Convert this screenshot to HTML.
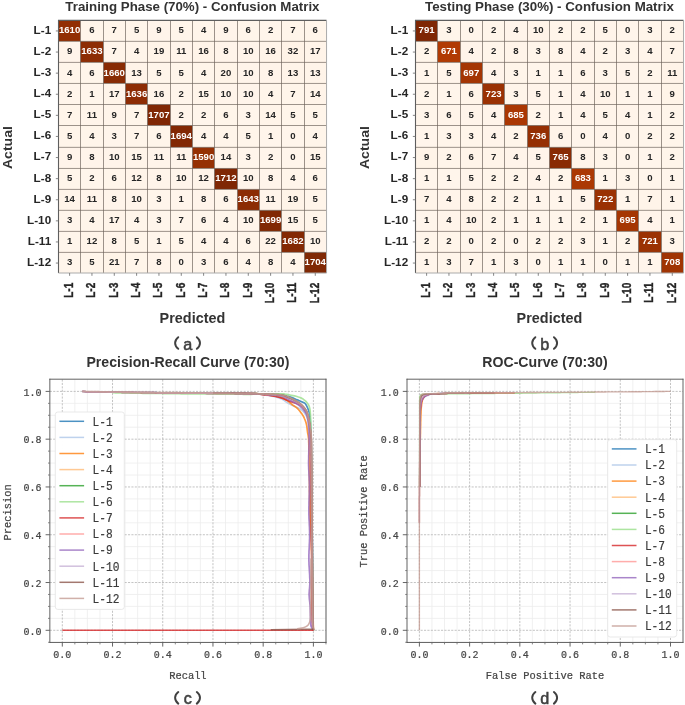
<!DOCTYPE html>
<html><head><meta charset="utf-8"><title>Figure</title>
<style>html,body{margin:0;padding:0;background:#fff;}body{width:685px;height:705px;overflow:hidden;font-family:"Liberation Sans",sans-serif;}svg{display:block;filter:blur(0.35px);}</style>
</head><body>
<svg width="685" height="705" viewBox="0 0 685 705" font-family='"Liberation Sans", sans-serif'><rect width="685" height="705" fill="#fff"/>
<rect x="58.50" y="20.40" width="22.05" height="21.00" fill="#922e04"/>
<rect x="80.50" y="20.40" width="23.05" height="21.00" fill="#fff5ea"/>
<rect x="103.50" y="20.40" width="22.05" height="21.00" fill="#fff5ea"/>
<rect x="125.50" y="20.40" width="22.05" height="21.00" fill="#fff5ea"/>
<rect x="147.50" y="20.40" width="23.05" height="21.00" fill="#fff4ea"/>
<rect x="170.50" y="20.40" width="22.05" height="21.00" fill="#fff5ea"/>
<rect x="192.50" y="20.40" width="22.05" height="21.00" fill="#fff5ea"/>
<rect x="214.50" y="20.40" width="23.05" height="21.00" fill="#fff4ea"/>
<rect x="237.50" y="20.40" width="22.05" height="21.00" fill="#fff5ea"/>
<rect x="259.50" y="20.40" width="22.05" height="21.00" fill="#fff5eb"/>
<rect x="281.50" y="20.40" width="23.05" height="21.00" fill="#fff5ea"/>
<rect x="304.50" y="20.40" width="22.10" height="21.00" fill="#fff5ea"/>
<rect x="58.50" y="41.35" width="22.05" height="21.10" fill="#fff4ea"/>
<rect x="80.50" y="41.35" width="23.05" height="21.10" fill="#8d2d04"/>
<rect x="103.50" y="41.35" width="22.05" height="21.10" fill="#fff5ea"/>
<rect x="125.50" y="41.35" width="22.05" height="21.10" fill="#fff5ea"/>
<rect x="147.50" y="41.35" width="23.05" height="21.10" fill="#fff4e8"/>
<rect x="170.50" y="41.35" width="22.05" height="21.10" fill="#fff4ea"/>
<rect x="192.50" y="41.35" width="22.05" height="21.10" fill="#fff4e9"/>
<rect x="214.50" y="41.35" width="23.05" height="21.10" fill="#fff4ea"/>
<rect x="237.50" y="41.35" width="22.05" height="21.10" fill="#fff4ea"/>
<rect x="259.50" y="41.35" width="22.05" height="21.10" fill="#fff4e9"/>
<rect x="281.50" y="41.35" width="23.05" height="21.10" fill="#fff3e7"/>
<rect x="304.50" y="41.35" width="22.10" height="21.10" fill="#fff4e9"/>
<rect x="58.50" y="62.40" width="22.05" height="21.10" fill="#fff5ea"/>
<rect x="80.50" y="62.40" width="23.05" height="21.10" fill="#fff5ea"/>
<rect x="103.50" y="62.40" width="22.05" height="21.10" fill="#882b04"/>
<rect x="125.50" y="62.40" width="22.05" height="21.10" fill="#fff4e9"/>
<rect x="147.50" y="62.40" width="23.05" height="21.10" fill="#fff5ea"/>
<rect x="170.50" y="62.40" width="22.05" height="21.10" fill="#fff5ea"/>
<rect x="192.50" y="62.40" width="22.05" height="21.10" fill="#fff5ea"/>
<rect x="214.50" y="62.40" width="23.05" height="21.10" fill="#fff4e8"/>
<rect x="237.50" y="62.40" width="22.05" height="21.10" fill="#fff4ea"/>
<rect x="259.50" y="62.40" width="22.05" height="21.10" fill="#fff4ea"/>
<rect x="281.50" y="62.40" width="23.05" height="21.10" fill="#fff4e9"/>
<rect x="304.50" y="62.40" width="22.10" height="21.10" fill="#fff4e9"/>
<rect x="58.50" y="83.45" width="22.05" height="21.10" fill="#fff5eb"/>
<rect x="80.50" y="83.45" width="23.05" height="21.10" fill="#fff5eb"/>
<rect x="103.50" y="83.45" width="22.05" height="21.10" fill="#fff4e9"/>
<rect x="125.50" y="83.45" width="22.05" height="21.10" fill="#8d2c04"/>
<rect x="147.50" y="83.45" width="23.05" height="21.10" fill="#fff4e9"/>
<rect x="170.50" y="83.45" width="22.05" height="21.10" fill="#fff5eb"/>
<rect x="192.50" y="83.45" width="22.05" height="21.10" fill="#fff4e9"/>
<rect x="214.50" y="83.45" width="23.05" height="21.10" fill="#fff4ea"/>
<rect x="237.50" y="83.45" width="22.05" height="21.10" fill="#fff4ea"/>
<rect x="259.50" y="83.45" width="22.05" height="21.10" fill="#fff5ea"/>
<rect x="281.50" y="83.45" width="23.05" height="21.10" fill="#fff5ea"/>
<rect x="304.50" y="83.45" width="22.10" height="21.10" fill="#fff4e9"/>
<rect x="58.50" y="104.50" width="22.05" height="21.05" fill="#fff5ea"/>
<rect x="80.50" y="104.50" width="23.05" height="21.05" fill="#fff4ea"/>
<rect x="103.50" y="104.50" width="22.05" height="21.05" fill="#fff4ea"/>
<rect x="125.50" y="104.50" width="22.05" height="21.05" fill="#fff5ea"/>
<rect x="147.50" y="104.50" width="23.05" height="21.05" fill="#802704"/>
<rect x="170.50" y="104.50" width="22.05" height="21.05" fill="#fff5eb"/>
<rect x="192.50" y="104.50" width="22.05" height="21.05" fill="#fff5eb"/>
<rect x="214.50" y="104.50" width="23.05" height="21.05" fill="#fff5ea"/>
<rect x="237.50" y="104.50" width="22.05" height="21.05" fill="#fff5eb"/>
<rect x="259.50" y="104.50" width="22.05" height="21.05" fill="#fff4e9"/>
<rect x="281.50" y="104.50" width="23.05" height="21.05" fill="#fff5ea"/>
<rect x="304.50" y="104.50" width="22.10" height="21.05" fill="#fff5ea"/>
<rect x="58.50" y="125.50" width="22.05" height="21.90" fill="#fff5ea"/>
<rect x="80.50" y="125.50" width="23.05" height="21.90" fill="#fff5ea"/>
<rect x="103.50" y="125.50" width="22.05" height="21.90" fill="#fff5eb"/>
<rect x="125.50" y="125.50" width="22.05" height="21.90" fill="#fff5ea"/>
<rect x="147.50" y="125.50" width="23.05" height="21.90" fill="#fff5ea"/>
<rect x="170.50" y="125.50" width="22.05" height="21.90" fill="#822804"/>
<rect x="192.50" y="125.50" width="22.05" height="21.90" fill="#fff5ea"/>
<rect x="214.50" y="125.50" width="23.05" height="21.90" fill="#fff5ea"/>
<rect x="237.50" y="125.50" width="22.05" height="21.90" fill="#fff5ea"/>
<rect x="259.50" y="125.50" width="22.05" height="21.90" fill="#fff5eb"/>
<rect x="281.50" y="125.50" width="23.05" height="21.90" fill="#fff5eb"/>
<rect x="304.50" y="125.50" width="22.10" height="21.90" fill="#fff5ea"/>
<rect x="58.50" y="147.35" width="22.05" height="21.15" fill="#fff4ea"/>
<rect x="80.50" y="147.35" width="23.05" height="21.15" fill="#fff4ea"/>
<rect x="103.50" y="147.35" width="22.05" height="21.15" fill="#fff4ea"/>
<rect x="125.50" y="147.35" width="22.05" height="21.15" fill="#fff4e9"/>
<rect x="147.50" y="147.35" width="23.05" height="21.15" fill="#fff4ea"/>
<rect x="170.50" y="147.35" width="22.05" height="21.15" fill="#fff4ea"/>
<rect x="192.50" y="147.35" width="22.05" height="21.15" fill="#953003"/>
<rect x="214.50" y="147.35" width="23.05" height="21.15" fill="#fff4e9"/>
<rect x="237.50" y="147.35" width="22.05" height="21.15" fill="#fff5eb"/>
<rect x="259.50" y="147.35" width="22.05" height="21.15" fill="#fff5eb"/>
<rect x="281.50" y="147.35" width="23.05" height="21.15" fill="#fff5eb"/>
<rect x="304.50" y="147.35" width="22.10" height="21.15" fill="#fff4e9"/>
<rect x="58.50" y="168.45" width="22.05" height="21.00" fill="#fff5ea"/>
<rect x="80.50" y="168.45" width="23.05" height="21.00" fill="#fff5eb"/>
<rect x="103.50" y="168.45" width="22.05" height="21.00" fill="#fff5ea"/>
<rect x="125.50" y="168.45" width="22.05" height="21.00" fill="#fff4e9"/>
<rect x="147.50" y="168.45" width="23.05" height="21.00" fill="#fff4ea"/>
<rect x="170.50" y="168.45" width="22.05" height="21.00" fill="#fff4ea"/>
<rect x="192.50" y="168.45" width="22.05" height="21.00" fill="#fff4e9"/>
<rect x="214.50" y="168.45" width="23.05" height="21.00" fill="#7f2704"/>
<rect x="237.50" y="168.45" width="22.05" height="21.00" fill="#fff4ea"/>
<rect x="259.50" y="168.45" width="22.05" height="21.00" fill="#fff4ea"/>
<rect x="281.50" y="168.45" width="23.05" height="21.00" fill="#fff5ea"/>
<rect x="304.50" y="168.45" width="22.10" height="21.00" fill="#fff5ea"/>
<rect x="58.50" y="189.40" width="22.05" height="21.00" fill="#fff4e9"/>
<rect x="80.50" y="189.40" width="23.05" height="21.00" fill="#fff4ea"/>
<rect x="103.50" y="189.40" width="22.05" height="21.00" fill="#fff4ea"/>
<rect x="125.50" y="189.40" width="22.05" height="21.00" fill="#fff4ea"/>
<rect x="147.50" y="189.40" width="23.05" height="21.00" fill="#fff5eb"/>
<rect x="170.50" y="189.40" width="22.05" height="21.00" fill="#fff5eb"/>
<rect x="192.50" y="189.40" width="22.05" height="21.00" fill="#fff4ea"/>
<rect x="214.50" y="189.40" width="23.05" height="21.00" fill="#fff5ea"/>
<rect x="237.50" y="189.40" width="22.05" height="21.00" fill="#8c2c04"/>
<rect x="259.50" y="189.40" width="22.05" height="21.00" fill="#fff4ea"/>
<rect x="281.50" y="189.40" width="23.05" height="21.00" fill="#fff4e8"/>
<rect x="304.50" y="189.40" width="22.10" height="21.00" fill="#fff5ea"/>
<rect x="58.50" y="210.35" width="22.05" height="21.10" fill="#fff5eb"/>
<rect x="80.50" y="210.35" width="23.05" height="21.10" fill="#fff5ea"/>
<rect x="103.50" y="210.35" width="22.05" height="21.10" fill="#fff4e9"/>
<rect x="125.50" y="210.35" width="22.05" height="21.10" fill="#fff5ea"/>
<rect x="147.50" y="210.35" width="23.05" height="21.10" fill="#fff5eb"/>
<rect x="170.50" y="210.35" width="22.05" height="21.10" fill="#fff5ea"/>
<rect x="192.50" y="210.35" width="22.05" height="21.10" fill="#fff5ea"/>
<rect x="214.50" y="210.35" width="23.05" height="21.10" fill="#fff5ea"/>
<rect x="237.50" y="210.35" width="22.05" height="21.10" fill="#fff4ea"/>
<rect x="259.50" y="210.35" width="22.05" height="21.10" fill="#812804"/>
<rect x="281.50" y="210.35" width="23.05" height="21.10" fill="#fff4e9"/>
<rect x="304.50" y="210.35" width="22.10" height="21.10" fill="#fff5ea"/>
<rect x="58.50" y="231.40" width="22.05" height="21.05" fill="#fff5eb"/>
<rect x="80.50" y="231.40" width="23.05" height="21.05" fill="#fff4e9"/>
<rect x="103.50" y="231.40" width="22.05" height="21.05" fill="#fff4ea"/>
<rect x="125.50" y="231.40" width="22.05" height="21.05" fill="#fff5ea"/>
<rect x="147.50" y="231.40" width="23.05" height="21.05" fill="#fff5eb"/>
<rect x="170.50" y="231.40" width="22.05" height="21.05" fill="#fff5ea"/>
<rect x="192.50" y="231.40" width="22.05" height="21.05" fill="#fff5ea"/>
<rect x="214.50" y="231.40" width="23.05" height="21.05" fill="#fff5ea"/>
<rect x="237.50" y="231.40" width="22.05" height="21.05" fill="#fff5ea"/>
<rect x="259.50" y="231.40" width="22.05" height="21.05" fill="#fff3e8"/>
<rect x="281.50" y="231.40" width="23.05" height="21.05" fill="#842904"/>
<rect x="304.50" y="231.40" width="22.10" height="21.05" fill="#fff4ea"/>
<rect x="58.50" y="252.40" width="22.05" height="20.65" fill="#fff5eb"/>
<rect x="80.50" y="252.40" width="23.05" height="20.65" fill="#fff5ea"/>
<rect x="103.50" y="252.40" width="22.05" height="20.65" fill="#fff4e8"/>
<rect x="125.50" y="252.40" width="22.05" height="20.65" fill="#fff5ea"/>
<rect x="147.50" y="252.40" width="23.05" height="20.65" fill="#fff4ea"/>
<rect x="170.50" y="252.40" width="22.05" height="20.65" fill="#fff5eb"/>
<rect x="192.50" y="252.40" width="22.05" height="20.65" fill="#fff5eb"/>
<rect x="214.50" y="252.40" width="23.05" height="20.65" fill="#fff5ea"/>
<rect x="237.50" y="252.40" width="22.05" height="20.65" fill="#fff5ea"/>
<rect x="259.50" y="252.40" width="22.05" height="20.65" fill="#fff4ea"/>
<rect x="281.50" y="252.40" width="23.05" height="20.65" fill="#fff5ea"/>
<rect x="304.50" y="252.40" width="22.10" height="20.65" fill="#802804"/>
<path d="M80.50 20.40V273.00M103.50 20.40V273.00M125.50 20.40V273.00M147.50 20.40V273.00M170.50 20.40V273.00M192.50 20.40V273.00M214.50 20.40V273.00M237.50 20.40V273.00M259.50 20.40V273.00M281.50 20.40V273.00M304.50 20.40V273.00M58.50 41.35H326.55M58.50 62.40H326.55M58.50 83.45H326.55M58.50 104.50H326.55M58.50 125.50H326.55M58.50 147.35H326.55M58.50 168.45H326.55M58.50 189.40H326.55M58.50 210.35H326.55M58.50 231.40H326.55M58.50 252.40H326.55" stroke="#6e6259" stroke-width="0.95" fill="none" opacity="0.72"/>
<path d="M58.50 273.00V20.40H326.55" stroke="#5e5e5e" stroke-width="1.1" fill="none"/>
<path d="M326.55 20.40V273.00H58.50" stroke="#ababab" stroke-width="1.0" fill="none"/>
<text x="69.62" y="33.31" fill="#ffffff" font-size="9.6" font-weight="bold" text-anchor="middle">1610</text>
<text x="91.95" y="33.31" fill="#262626" font-size="9.6" font-weight="bold" text-anchor="middle">6</text>
<text x="114.28" y="33.31" fill="#262626" font-size="9.6" font-weight="bold" text-anchor="middle">7</text>
<text x="136.62" y="33.31" fill="#262626" font-size="9.6" font-weight="bold" text-anchor="middle">5</text>
<text x="158.95" y="33.31" fill="#262626" font-size="9.6" font-weight="bold" text-anchor="middle">9</text>
<text x="181.28" y="33.31" fill="#262626" font-size="9.6" font-weight="bold" text-anchor="middle">5</text>
<text x="203.62" y="33.31" fill="#262626" font-size="9.6" font-weight="bold" text-anchor="middle">4</text>
<text x="225.95" y="33.31" fill="#262626" font-size="9.6" font-weight="bold" text-anchor="middle">9</text>
<text x="248.28" y="33.31" fill="#262626" font-size="9.6" font-weight="bold" text-anchor="middle">6</text>
<text x="270.62" y="33.31" fill="#262626" font-size="9.6" font-weight="bold" text-anchor="middle">2</text>
<text x="292.95" y="33.31" fill="#262626" font-size="9.6" font-weight="bold" text-anchor="middle">7</text>
<text x="315.28" y="33.31" fill="#262626" font-size="9.6" font-weight="bold" text-anchor="middle">6</text>
<text x="69.62" y="54.41" fill="#262626" font-size="9.6" font-weight="bold" text-anchor="middle">9</text>
<text x="91.95" y="54.41" fill="#ffffff" font-size="9.6" font-weight="bold" text-anchor="middle">1633</text>
<text x="114.28" y="54.41" fill="#262626" font-size="9.6" font-weight="bold" text-anchor="middle">7</text>
<text x="136.62" y="54.41" fill="#262626" font-size="9.6" font-weight="bold" text-anchor="middle">4</text>
<text x="158.95" y="54.41" fill="#262626" font-size="9.6" font-weight="bold" text-anchor="middle">19</text>
<text x="181.28" y="54.41" fill="#262626" font-size="9.6" font-weight="bold" text-anchor="middle">11</text>
<text x="203.62" y="54.41" fill="#262626" font-size="9.6" font-weight="bold" text-anchor="middle">16</text>
<text x="225.95" y="54.41" fill="#262626" font-size="9.6" font-weight="bold" text-anchor="middle">8</text>
<text x="248.28" y="54.41" fill="#262626" font-size="9.6" font-weight="bold" text-anchor="middle">10</text>
<text x="270.62" y="54.41" fill="#262626" font-size="9.6" font-weight="bold" text-anchor="middle">16</text>
<text x="292.95" y="54.41" fill="#262626" font-size="9.6" font-weight="bold" text-anchor="middle">32</text>
<text x="315.28" y="54.41" fill="#262626" font-size="9.6" font-weight="bold" text-anchor="middle">17</text>
<text x="69.62" y="75.51" fill="#262626" font-size="9.6" font-weight="bold" text-anchor="middle">4</text>
<text x="91.95" y="75.51" fill="#262626" font-size="9.6" font-weight="bold" text-anchor="middle">6</text>
<text x="114.28" y="75.51" fill="#ffffff" font-size="9.6" font-weight="bold" text-anchor="middle">1660</text>
<text x="136.62" y="75.51" fill="#262626" font-size="9.6" font-weight="bold" text-anchor="middle">13</text>
<text x="158.95" y="75.51" fill="#262626" font-size="9.6" font-weight="bold" text-anchor="middle">5</text>
<text x="181.28" y="75.51" fill="#262626" font-size="9.6" font-weight="bold" text-anchor="middle">5</text>
<text x="203.62" y="75.51" fill="#262626" font-size="9.6" font-weight="bold" text-anchor="middle">4</text>
<text x="225.95" y="75.51" fill="#262626" font-size="9.6" font-weight="bold" text-anchor="middle">20</text>
<text x="248.28" y="75.51" fill="#262626" font-size="9.6" font-weight="bold" text-anchor="middle">10</text>
<text x="270.62" y="75.51" fill="#262626" font-size="9.6" font-weight="bold" text-anchor="middle">8</text>
<text x="292.95" y="75.51" fill="#262626" font-size="9.6" font-weight="bold" text-anchor="middle">13</text>
<text x="315.28" y="75.51" fill="#262626" font-size="9.6" font-weight="bold" text-anchor="middle">13</text>
<text x="69.62" y="96.61" fill="#262626" font-size="9.6" font-weight="bold" text-anchor="middle">2</text>
<text x="91.95" y="96.61" fill="#262626" font-size="9.6" font-weight="bold" text-anchor="middle">1</text>
<text x="114.28" y="96.61" fill="#262626" font-size="9.6" font-weight="bold" text-anchor="middle">17</text>
<text x="136.62" y="96.61" fill="#ffffff" font-size="9.6" font-weight="bold" text-anchor="middle">1636</text>
<text x="158.95" y="96.61" fill="#262626" font-size="9.6" font-weight="bold" text-anchor="middle">16</text>
<text x="181.28" y="96.61" fill="#262626" font-size="9.6" font-weight="bold" text-anchor="middle">2</text>
<text x="203.62" y="96.61" fill="#262626" font-size="9.6" font-weight="bold" text-anchor="middle">15</text>
<text x="225.95" y="96.61" fill="#262626" font-size="9.6" font-weight="bold" text-anchor="middle">10</text>
<text x="248.28" y="96.61" fill="#262626" font-size="9.6" font-weight="bold" text-anchor="middle">10</text>
<text x="270.62" y="96.61" fill="#262626" font-size="9.6" font-weight="bold" text-anchor="middle">4</text>
<text x="292.95" y="96.61" fill="#262626" font-size="9.6" font-weight="bold" text-anchor="middle">7</text>
<text x="315.28" y="96.61" fill="#262626" font-size="9.6" font-weight="bold" text-anchor="middle">14</text>
<text x="69.62" y="117.71" fill="#262626" font-size="9.6" font-weight="bold" text-anchor="middle">7</text>
<text x="91.95" y="117.71" fill="#262626" font-size="9.6" font-weight="bold" text-anchor="middle">11</text>
<text x="114.28" y="117.71" fill="#262626" font-size="9.6" font-weight="bold" text-anchor="middle">9</text>
<text x="136.62" y="117.71" fill="#262626" font-size="9.6" font-weight="bold" text-anchor="middle">7</text>
<text x="158.95" y="117.71" fill="#ffffff" font-size="9.6" font-weight="bold" text-anchor="middle">1707</text>
<text x="181.28" y="117.71" fill="#262626" font-size="9.6" font-weight="bold" text-anchor="middle">2</text>
<text x="203.62" y="117.71" fill="#262626" font-size="9.6" font-weight="bold" text-anchor="middle">2</text>
<text x="225.95" y="117.71" fill="#262626" font-size="9.6" font-weight="bold" text-anchor="middle">6</text>
<text x="248.28" y="117.71" fill="#262626" font-size="9.6" font-weight="bold" text-anchor="middle">3</text>
<text x="270.62" y="117.71" fill="#262626" font-size="9.6" font-weight="bold" text-anchor="middle">14</text>
<text x="292.95" y="117.71" fill="#262626" font-size="9.6" font-weight="bold" text-anchor="middle">5</text>
<text x="315.28" y="117.71" fill="#262626" font-size="9.6" font-weight="bold" text-anchor="middle">5</text>
<text x="69.62" y="138.81" fill="#262626" font-size="9.6" font-weight="bold" text-anchor="middle">5</text>
<text x="91.95" y="138.81" fill="#262626" font-size="9.6" font-weight="bold" text-anchor="middle">4</text>
<text x="114.28" y="138.81" fill="#262626" font-size="9.6" font-weight="bold" text-anchor="middle">3</text>
<text x="136.62" y="138.81" fill="#262626" font-size="9.6" font-weight="bold" text-anchor="middle">7</text>
<text x="158.95" y="138.81" fill="#262626" font-size="9.6" font-weight="bold" text-anchor="middle">6</text>
<text x="181.28" y="138.81" fill="#ffffff" font-size="9.6" font-weight="bold" text-anchor="middle">1694</text>
<text x="203.62" y="138.81" fill="#262626" font-size="9.6" font-weight="bold" text-anchor="middle">4</text>
<text x="225.95" y="138.81" fill="#262626" font-size="9.6" font-weight="bold" text-anchor="middle">4</text>
<text x="248.28" y="138.81" fill="#262626" font-size="9.6" font-weight="bold" text-anchor="middle">5</text>
<text x="270.62" y="138.81" fill="#262626" font-size="9.6" font-weight="bold" text-anchor="middle">1</text>
<text x="292.95" y="138.81" fill="#262626" font-size="9.6" font-weight="bold" text-anchor="middle">0</text>
<text x="315.28" y="138.81" fill="#262626" font-size="9.6" font-weight="bold" text-anchor="middle">4</text>
<text x="69.62" y="159.91" fill="#262626" font-size="9.6" font-weight="bold" text-anchor="middle">9</text>
<text x="91.95" y="159.91" fill="#262626" font-size="9.6" font-weight="bold" text-anchor="middle">8</text>
<text x="114.28" y="159.91" fill="#262626" font-size="9.6" font-weight="bold" text-anchor="middle">10</text>
<text x="136.62" y="159.91" fill="#262626" font-size="9.6" font-weight="bold" text-anchor="middle">15</text>
<text x="158.95" y="159.91" fill="#262626" font-size="9.6" font-weight="bold" text-anchor="middle">11</text>
<text x="181.28" y="159.91" fill="#262626" font-size="9.6" font-weight="bold" text-anchor="middle">11</text>
<text x="203.62" y="159.91" fill="#ffffff" font-size="9.6" font-weight="bold" text-anchor="middle">1590</text>
<text x="225.95" y="159.91" fill="#262626" font-size="9.6" font-weight="bold" text-anchor="middle">14</text>
<text x="248.28" y="159.91" fill="#262626" font-size="9.6" font-weight="bold" text-anchor="middle">3</text>
<text x="270.62" y="159.91" fill="#262626" font-size="9.6" font-weight="bold" text-anchor="middle">2</text>
<text x="292.95" y="159.91" fill="#262626" font-size="9.6" font-weight="bold" text-anchor="middle">0</text>
<text x="315.28" y="159.91" fill="#262626" font-size="9.6" font-weight="bold" text-anchor="middle">15</text>
<text x="69.62" y="181.01" fill="#262626" font-size="9.6" font-weight="bold" text-anchor="middle">5</text>
<text x="91.95" y="181.01" fill="#262626" font-size="9.6" font-weight="bold" text-anchor="middle">2</text>
<text x="114.28" y="181.01" fill="#262626" font-size="9.6" font-weight="bold" text-anchor="middle">6</text>
<text x="136.62" y="181.01" fill="#262626" font-size="9.6" font-weight="bold" text-anchor="middle">12</text>
<text x="158.95" y="181.01" fill="#262626" font-size="9.6" font-weight="bold" text-anchor="middle">8</text>
<text x="181.28" y="181.01" fill="#262626" font-size="9.6" font-weight="bold" text-anchor="middle">10</text>
<text x="203.62" y="181.01" fill="#262626" font-size="9.6" font-weight="bold" text-anchor="middle">12</text>
<text x="225.95" y="181.01" fill="#ffffff" font-size="9.6" font-weight="bold" text-anchor="middle">1712</text>
<text x="248.28" y="181.01" fill="#262626" font-size="9.6" font-weight="bold" text-anchor="middle">10</text>
<text x="270.62" y="181.01" fill="#262626" font-size="9.6" font-weight="bold" text-anchor="middle">8</text>
<text x="292.95" y="181.01" fill="#262626" font-size="9.6" font-weight="bold" text-anchor="middle">4</text>
<text x="315.28" y="181.01" fill="#262626" font-size="9.6" font-weight="bold" text-anchor="middle">6</text>
<text x="69.62" y="202.11" fill="#262626" font-size="9.6" font-weight="bold" text-anchor="middle">14</text>
<text x="91.95" y="202.11" fill="#262626" font-size="9.6" font-weight="bold" text-anchor="middle">11</text>
<text x="114.28" y="202.11" fill="#262626" font-size="9.6" font-weight="bold" text-anchor="middle">8</text>
<text x="136.62" y="202.11" fill="#262626" font-size="9.6" font-weight="bold" text-anchor="middle">10</text>
<text x="158.95" y="202.11" fill="#262626" font-size="9.6" font-weight="bold" text-anchor="middle">3</text>
<text x="181.28" y="202.11" fill="#262626" font-size="9.6" font-weight="bold" text-anchor="middle">1</text>
<text x="203.62" y="202.11" fill="#262626" font-size="9.6" font-weight="bold" text-anchor="middle">8</text>
<text x="225.95" y="202.11" fill="#262626" font-size="9.6" font-weight="bold" text-anchor="middle">6</text>
<text x="248.28" y="202.11" fill="#ffffff" font-size="9.6" font-weight="bold" text-anchor="middle">1643</text>
<text x="270.62" y="202.11" fill="#262626" font-size="9.6" font-weight="bold" text-anchor="middle">11</text>
<text x="292.95" y="202.11" fill="#262626" font-size="9.6" font-weight="bold" text-anchor="middle">19</text>
<text x="315.28" y="202.11" fill="#262626" font-size="9.6" font-weight="bold" text-anchor="middle">5</text>
<text x="69.62" y="223.21" fill="#262626" font-size="9.6" font-weight="bold" text-anchor="middle">3</text>
<text x="91.95" y="223.21" fill="#262626" font-size="9.6" font-weight="bold" text-anchor="middle">4</text>
<text x="114.28" y="223.21" fill="#262626" font-size="9.6" font-weight="bold" text-anchor="middle">17</text>
<text x="136.62" y="223.21" fill="#262626" font-size="9.6" font-weight="bold" text-anchor="middle">4</text>
<text x="158.95" y="223.21" fill="#262626" font-size="9.6" font-weight="bold" text-anchor="middle">3</text>
<text x="181.28" y="223.21" fill="#262626" font-size="9.6" font-weight="bold" text-anchor="middle">7</text>
<text x="203.62" y="223.21" fill="#262626" font-size="9.6" font-weight="bold" text-anchor="middle">6</text>
<text x="225.95" y="223.21" fill="#262626" font-size="9.6" font-weight="bold" text-anchor="middle">4</text>
<text x="248.28" y="223.21" fill="#262626" font-size="9.6" font-weight="bold" text-anchor="middle">10</text>
<text x="270.62" y="223.21" fill="#ffffff" font-size="9.6" font-weight="bold" text-anchor="middle">1699</text>
<text x="292.95" y="223.21" fill="#262626" font-size="9.6" font-weight="bold" text-anchor="middle">15</text>
<text x="315.28" y="223.21" fill="#262626" font-size="9.6" font-weight="bold" text-anchor="middle">5</text>
<text x="69.62" y="244.31" fill="#262626" font-size="9.6" font-weight="bold" text-anchor="middle">1</text>
<text x="91.95" y="244.31" fill="#262626" font-size="9.6" font-weight="bold" text-anchor="middle">12</text>
<text x="114.28" y="244.31" fill="#262626" font-size="9.6" font-weight="bold" text-anchor="middle">8</text>
<text x="136.62" y="244.31" fill="#262626" font-size="9.6" font-weight="bold" text-anchor="middle">5</text>
<text x="158.95" y="244.31" fill="#262626" font-size="9.6" font-weight="bold" text-anchor="middle">1</text>
<text x="181.28" y="244.31" fill="#262626" font-size="9.6" font-weight="bold" text-anchor="middle">5</text>
<text x="203.62" y="244.31" fill="#262626" font-size="9.6" font-weight="bold" text-anchor="middle">4</text>
<text x="225.95" y="244.31" fill="#262626" font-size="9.6" font-weight="bold" text-anchor="middle">4</text>
<text x="248.28" y="244.31" fill="#262626" font-size="9.6" font-weight="bold" text-anchor="middle">6</text>
<text x="270.62" y="244.31" fill="#262626" font-size="9.6" font-weight="bold" text-anchor="middle">22</text>
<text x="292.95" y="244.31" fill="#ffffff" font-size="9.6" font-weight="bold" text-anchor="middle">1682</text>
<text x="315.28" y="244.31" fill="#262626" font-size="9.6" font-weight="bold" text-anchor="middle">10</text>
<text x="69.62" y="265.41" fill="#262626" font-size="9.6" font-weight="bold" text-anchor="middle">3</text>
<text x="91.95" y="265.41" fill="#262626" font-size="9.6" font-weight="bold" text-anchor="middle">5</text>
<text x="114.28" y="265.41" fill="#262626" font-size="9.6" font-weight="bold" text-anchor="middle">21</text>
<text x="136.62" y="265.41" fill="#262626" font-size="9.6" font-weight="bold" text-anchor="middle">7</text>
<text x="158.95" y="265.41" fill="#262626" font-size="9.6" font-weight="bold" text-anchor="middle">8</text>
<text x="181.28" y="265.41" fill="#262626" font-size="9.6" font-weight="bold" text-anchor="middle">0</text>
<text x="203.62" y="265.41" fill="#262626" font-size="9.6" font-weight="bold" text-anchor="middle">3</text>
<text x="225.95" y="265.41" fill="#262626" font-size="9.6" font-weight="bold" text-anchor="middle">6</text>
<text x="248.28" y="265.41" fill="#262626" font-size="9.6" font-weight="bold" text-anchor="middle">4</text>
<text x="270.62" y="265.41" fill="#262626" font-size="9.6" font-weight="bold" text-anchor="middle">8</text>
<text x="292.95" y="265.41" fill="#262626" font-size="9.6" font-weight="bold" text-anchor="middle">4</text>
<text x="315.28" y="265.41" fill="#ffffff" font-size="9.6" font-weight="bold" text-anchor="middle">1704</text>
<text x="51.15" y="33.89" fill="#262626" font-size="11.7" font-weight="bold" text-anchor="end">L-1</text>
<text x="51.15" y="54.99" fill="#262626" font-size="11.7" font-weight="bold" text-anchor="end">L-2</text>
<text x="51.15" y="76.09" fill="#262626" font-size="11.7" font-weight="bold" text-anchor="end">L-3</text>
<text x="51.15" y="97.19" fill="#262626" font-size="11.7" font-weight="bold" text-anchor="end">L-4</text>
<text x="51.15" y="118.29" fill="#262626" font-size="11.7" font-weight="bold" text-anchor="end">L-5</text>
<text x="51.15" y="139.39" fill="#262626" font-size="11.7" font-weight="bold" text-anchor="end">L-6</text>
<text x="51.15" y="160.49" fill="#262626" font-size="11.7" font-weight="bold" text-anchor="end">L-7</text>
<text x="51.15" y="181.59" fill="#262626" font-size="11.7" font-weight="bold" text-anchor="end">L-8</text>
<text x="51.15" y="202.69" fill="#262626" font-size="11.7" font-weight="bold" text-anchor="end">L-9</text>
<text x="51.15" y="223.79" fill="#262626" font-size="11.7" font-weight="bold" text-anchor="end">L-10</text>
<text x="51.15" y="244.89" fill="#262626" font-size="11.7" font-weight="bold" text-anchor="end">L-11</text>
<text x="51.15" y="265.99" fill="#262626" font-size="11.7" font-weight="bold" text-anchor="end">L-12</text>
<text transform="translate(72.97,282.70) rotate(-90) scale(0.86,1.12)" fill="#262626" stroke="#262626" stroke-width="0.35" font-size="11.7" font-weight="bold" text-anchor="end">L-1</text>
<text transform="translate(95.30,282.70) rotate(-90) scale(0.86,1.12)" fill="#262626" stroke="#262626" stroke-width="0.35" font-size="11.7" font-weight="bold" text-anchor="end">L-2</text>
<text transform="translate(117.63,282.70) rotate(-90) scale(0.86,1.12)" fill="#262626" stroke="#262626" stroke-width="0.35" font-size="11.7" font-weight="bold" text-anchor="end">L-3</text>
<text transform="translate(139.97,282.70) rotate(-90) scale(0.86,1.12)" fill="#262626" stroke="#262626" stroke-width="0.35" font-size="11.7" font-weight="bold" text-anchor="end">L-4</text>
<text transform="translate(162.30,282.70) rotate(-90) scale(0.86,1.12)" fill="#262626" stroke="#262626" stroke-width="0.35" font-size="11.7" font-weight="bold" text-anchor="end">L-5</text>
<text transform="translate(184.63,282.70) rotate(-90) scale(0.86,1.12)" fill="#262626" stroke="#262626" stroke-width="0.35" font-size="11.7" font-weight="bold" text-anchor="end">L-6</text>
<text transform="translate(206.97,282.70) rotate(-90) scale(0.86,1.12)" fill="#262626" stroke="#262626" stroke-width="0.35" font-size="11.7" font-weight="bold" text-anchor="end">L-7</text>
<text transform="translate(229.30,282.70) rotate(-90) scale(0.86,1.12)" fill="#262626" stroke="#262626" stroke-width="0.35" font-size="11.7" font-weight="bold" text-anchor="end">L-8</text>
<text transform="translate(251.63,282.70) rotate(-90) scale(0.86,1.12)" fill="#262626" stroke="#262626" stroke-width="0.35" font-size="11.7" font-weight="bold" text-anchor="end">L-9</text>
<text transform="translate(273.97,282.70) rotate(-90) scale(0.86,1.12)" fill="#262626" stroke="#262626" stroke-width="0.35" font-size="11.7" font-weight="bold" text-anchor="end">L-10</text>
<text transform="translate(296.30,282.70) rotate(-90) scale(0.86,1.12)" fill="#262626" stroke="#262626" stroke-width="0.35" font-size="11.7" font-weight="bold" text-anchor="end">L-11</text>
<text transform="translate(318.63,282.70) rotate(-90) scale(0.86,1.12)" fill="#262626" stroke="#262626" stroke-width="0.35" font-size="11.7" font-weight="bold" text-anchor="end">L-12</text>
<path d="M55.85 30.95H58.45M55.85 52.05H58.45M55.85 73.15H58.45M55.85 94.25H58.45M55.85 115.35H58.45M55.85 136.45H58.45M55.85 157.55H58.45M55.85 178.65H58.45M55.85 199.75H58.45M55.85 220.85H58.45M55.85 241.95H58.45M55.85 263.05H58.45M69.62 273.00V275.80M91.95 273.00V275.80M114.28 273.00V275.80M136.62 273.00V275.80M158.95 273.00V275.80M181.28 273.00V275.80M203.62 273.00V275.80M225.95 273.00V275.80M248.28 273.00V275.80M270.62 273.00V275.80M292.95 273.00V275.80M315.28 273.00V275.80" stroke="#777" stroke-width="0.9" fill="none"/>
<text x="192.45" y="10.9" fill="#333" font-size="13.3" font-weight="bold" text-anchor="middle">Training Phase (70%) - Confusion Matrix</text>
<text transform="translate(192.45,322.7) scale(1.045,1)" fill="#333" font-size="13.8" font-weight="bold" text-anchor="middle">Predicted</text>
<rect x="415.50" y="20.40" width="22.05" height="21.00" fill="#7f2704"/>
<rect x="437.50" y="20.40" width="23.05" height="21.00" fill="#fff5ea"/>
<rect x="460.50" y="20.40" width="22.05" height="21.00" fill="#fff5eb"/>
<rect x="482.50" y="20.40" width="22.05" height="21.00" fill="#fff5ea"/>
<rect x="504.50" y="20.40" width="23.05" height="21.00" fill="#fff4ea"/>
<rect x="527.50" y="20.40" width="22.05" height="21.00" fill="#fff3e8"/>
<rect x="549.50" y="20.40" width="22.05" height="21.00" fill="#fff5ea"/>
<rect x="571.50" y="20.40" width="23.05" height="21.00" fill="#fff5ea"/>
<rect x="594.50" y="20.40" width="22.05" height="21.00" fill="#fff4ea"/>
<rect x="616.50" y="20.40" width="22.05" height="21.00" fill="#fff5eb"/>
<rect x="638.50" y="20.40" width="23.05" height="21.00" fill="#fff5ea"/>
<rect x="661.50" y="20.40" width="22.10" height="21.00" fill="#fff5ea"/>
<rect x="415.50" y="41.35" width="22.05" height="21.10" fill="#fff5ea"/>
<rect x="437.50" y="41.35" width="23.05" height="21.10" fill="#b13a03"/>
<rect x="460.50" y="41.35" width="22.05" height="21.10" fill="#fff4ea"/>
<rect x="482.50" y="41.35" width="22.05" height="21.10" fill="#fff5ea"/>
<rect x="504.50" y="41.35" width="23.05" height="21.10" fill="#fff4e9"/>
<rect x="527.50" y="41.35" width="22.05" height="21.10" fill="#fff5ea"/>
<rect x="549.50" y="41.35" width="22.05" height="21.10" fill="#fff4e9"/>
<rect x="571.50" y="41.35" width="23.05" height="21.10" fill="#fff4ea"/>
<rect x="594.50" y="41.35" width="22.05" height="21.10" fill="#fff5ea"/>
<rect x="616.50" y="41.35" width="22.05" height="21.10" fill="#fff5ea"/>
<rect x="638.50" y="41.35" width="23.05" height="21.10" fill="#fff4ea"/>
<rect x="661.50" y="41.35" width="22.10" height="21.10" fill="#fff4e9"/>
<rect x="415.50" y="62.40" width="22.05" height="21.10" fill="#fff5eb"/>
<rect x="437.50" y="62.40" width="23.05" height="21.10" fill="#fff4ea"/>
<rect x="460.50" y="62.40" width="22.05" height="21.10" fill="#a43503"/>
<rect x="482.50" y="62.40" width="22.05" height="21.10" fill="#fff4ea"/>
<rect x="504.50" y="62.40" width="23.05" height="21.10" fill="#fff5ea"/>
<rect x="527.50" y="62.40" width="22.05" height="21.10" fill="#fff5eb"/>
<rect x="549.50" y="62.40" width="22.05" height="21.10" fill="#fff5eb"/>
<rect x="571.50" y="62.40" width="23.05" height="21.10" fill="#fff4e9"/>
<rect x="594.50" y="62.40" width="22.05" height="21.10" fill="#fff5ea"/>
<rect x="616.50" y="62.40" width="22.05" height="21.10" fill="#fff4ea"/>
<rect x="638.50" y="62.40" width="23.05" height="21.10" fill="#fff5ea"/>
<rect x="661.50" y="62.40" width="22.10" height="21.10" fill="#fff3e8"/>
<rect x="415.50" y="83.45" width="22.05" height="21.10" fill="#fff5ea"/>
<rect x="437.50" y="83.45" width="23.05" height="21.10" fill="#fff5eb"/>
<rect x="460.50" y="83.45" width="22.05" height="21.10" fill="#fff4e9"/>
<rect x="482.50" y="83.45" width="22.05" height="21.10" fill="#9a3103"/>
<rect x="504.50" y="83.45" width="23.05" height="21.10" fill="#fff5ea"/>
<rect x="527.50" y="83.45" width="22.05" height="21.10" fill="#fff4ea"/>
<rect x="549.50" y="83.45" width="22.05" height="21.10" fill="#fff5eb"/>
<rect x="571.50" y="83.45" width="23.05" height="21.10" fill="#fff4ea"/>
<rect x="594.50" y="83.45" width="22.05" height="21.10" fill="#fff3e8"/>
<rect x="616.50" y="83.45" width="22.05" height="21.10" fill="#fff5eb"/>
<rect x="638.50" y="83.45" width="23.05" height="21.10" fill="#fff5eb"/>
<rect x="661.50" y="83.45" width="22.10" height="21.10" fill="#fff4e8"/>
<rect x="415.50" y="104.50" width="22.05" height="21.05" fill="#fff5ea"/>
<rect x="437.50" y="104.50" width="23.05" height="21.05" fill="#fff4e9"/>
<rect x="460.50" y="104.50" width="22.05" height="21.05" fill="#fff4ea"/>
<rect x="482.50" y="104.50" width="22.05" height="21.05" fill="#fff4ea"/>
<rect x="504.50" y="104.50" width="23.05" height="21.05" fill="#aa3703"/>
<rect x="527.50" y="104.50" width="22.05" height="21.05" fill="#fff5ea"/>
<rect x="549.50" y="104.50" width="22.05" height="21.05" fill="#fff5eb"/>
<rect x="571.50" y="104.50" width="23.05" height="21.05" fill="#fff4ea"/>
<rect x="594.50" y="104.50" width="22.05" height="21.05" fill="#fff4ea"/>
<rect x="616.50" y="104.50" width="22.05" height="21.05" fill="#fff4ea"/>
<rect x="638.50" y="104.50" width="23.05" height="21.05" fill="#fff5eb"/>
<rect x="661.50" y="104.50" width="22.10" height="21.05" fill="#fff5ea"/>
<rect x="415.50" y="125.50" width="22.05" height="21.90" fill="#fff5eb"/>
<rect x="437.50" y="125.50" width="23.05" height="21.90" fill="#fff5ea"/>
<rect x="460.50" y="125.50" width="22.05" height="21.90" fill="#fff5ea"/>
<rect x="482.50" y="125.50" width="22.05" height="21.90" fill="#fff4ea"/>
<rect x="504.50" y="125.50" width="23.05" height="21.90" fill="#fff5ea"/>
<rect x="527.50" y="125.50" width="22.05" height="21.90" fill="#952f03"/>
<rect x="549.50" y="125.50" width="22.05" height="21.90" fill="#fff4e9"/>
<rect x="571.50" y="125.50" width="23.05" height="21.90" fill="#fff5eb"/>
<rect x="594.50" y="125.50" width="22.05" height="21.90" fill="#fff4ea"/>
<rect x="616.50" y="125.50" width="22.05" height="21.90" fill="#fff5eb"/>
<rect x="638.50" y="125.50" width="23.05" height="21.90" fill="#fff5ea"/>
<rect x="661.50" y="125.50" width="22.10" height="21.90" fill="#fff5ea"/>
<rect x="415.50" y="147.35" width="22.05" height="21.15" fill="#fff4e8"/>
<rect x="437.50" y="147.35" width="23.05" height="21.15" fill="#fff5ea"/>
<rect x="460.50" y="147.35" width="22.05" height="21.15" fill="#fff4e9"/>
<rect x="482.50" y="147.35" width="22.05" height="21.15" fill="#fff4e9"/>
<rect x="504.50" y="147.35" width="23.05" height="21.15" fill="#fff4ea"/>
<rect x="527.50" y="147.35" width="22.05" height="21.15" fill="#fff4ea"/>
<rect x="549.50" y="147.35" width="22.05" height="21.15" fill="#892b04"/>
<rect x="571.50" y="147.35" width="23.05" height="21.15" fill="#fff4e9"/>
<rect x="594.50" y="147.35" width="22.05" height="21.15" fill="#fff5ea"/>
<rect x="616.50" y="147.35" width="22.05" height="21.15" fill="#fff5eb"/>
<rect x="638.50" y="147.35" width="23.05" height="21.15" fill="#fff5eb"/>
<rect x="661.50" y="147.35" width="22.10" height="21.15" fill="#fff5ea"/>
<rect x="415.50" y="168.45" width="22.05" height="21.00" fill="#fff5eb"/>
<rect x="437.50" y="168.45" width="23.05" height="21.00" fill="#fff5eb"/>
<rect x="460.50" y="168.45" width="22.05" height="21.00" fill="#fff4ea"/>
<rect x="482.50" y="168.45" width="22.05" height="21.00" fill="#fff5ea"/>
<rect x="504.50" y="168.45" width="23.05" height="21.00" fill="#fff5ea"/>
<rect x="527.50" y="168.45" width="22.05" height="21.00" fill="#fff4ea"/>
<rect x="549.50" y="168.45" width="22.05" height="21.00" fill="#fff5ea"/>
<rect x="571.50" y="168.45" width="23.05" height="21.00" fill="#ab3803"/>
<rect x="594.50" y="168.45" width="22.05" height="21.00" fill="#fff5eb"/>
<rect x="616.50" y="168.45" width="22.05" height="21.00" fill="#fff5ea"/>
<rect x="638.50" y="168.45" width="23.05" height="21.00" fill="#fff5eb"/>
<rect x="661.50" y="168.45" width="22.10" height="21.00" fill="#fff5eb"/>
<rect x="415.50" y="189.40" width="22.05" height="21.00" fill="#fff4e9"/>
<rect x="437.50" y="189.40" width="23.05" height="21.00" fill="#fff4ea"/>
<rect x="460.50" y="189.40" width="22.05" height="21.00" fill="#fff4e9"/>
<rect x="482.50" y="189.40" width="22.05" height="21.00" fill="#fff5ea"/>
<rect x="504.50" y="189.40" width="23.05" height="21.00" fill="#fff5ea"/>
<rect x="527.50" y="189.40" width="22.05" height="21.00" fill="#fff5eb"/>
<rect x="549.50" y="189.40" width="22.05" height="21.00" fill="#fff5eb"/>
<rect x="571.50" y="189.40" width="23.05" height="21.00" fill="#fff4ea"/>
<rect x="594.50" y="189.40" width="22.05" height="21.00" fill="#9a3103"/>
<rect x="616.50" y="189.40" width="22.05" height="21.00" fill="#fff5eb"/>
<rect x="638.50" y="189.40" width="23.05" height="21.00" fill="#fff4e9"/>
<rect x="661.50" y="189.40" width="22.10" height="21.00" fill="#fff5eb"/>
<rect x="415.50" y="210.35" width="22.05" height="21.10" fill="#fff5eb"/>
<rect x="437.50" y="210.35" width="23.05" height="21.10" fill="#fff4ea"/>
<rect x="460.50" y="210.35" width="22.05" height="21.10" fill="#fff3e8"/>
<rect x="482.50" y="210.35" width="22.05" height="21.10" fill="#fff5ea"/>
<rect x="504.50" y="210.35" width="23.05" height="21.10" fill="#fff5eb"/>
<rect x="527.50" y="210.35" width="22.05" height="21.10" fill="#fff5eb"/>
<rect x="549.50" y="210.35" width="22.05" height="21.10" fill="#fff5eb"/>
<rect x="571.50" y="210.35" width="23.05" height="21.10" fill="#fff5ea"/>
<rect x="594.50" y="210.35" width="22.05" height="21.10" fill="#fff5eb"/>
<rect x="616.50" y="210.35" width="22.05" height="21.10" fill="#a53603"/>
<rect x="638.50" y="210.35" width="23.05" height="21.10" fill="#fff4ea"/>
<rect x="661.50" y="210.35" width="22.10" height="21.10" fill="#fff5eb"/>
<rect x="415.50" y="231.40" width="22.05" height="21.05" fill="#fff5ea"/>
<rect x="437.50" y="231.40" width="23.05" height="21.05" fill="#fff5ea"/>
<rect x="460.50" y="231.40" width="22.05" height="21.05" fill="#fff5eb"/>
<rect x="482.50" y="231.40" width="22.05" height="21.05" fill="#fff5ea"/>
<rect x="504.50" y="231.40" width="23.05" height="21.05" fill="#fff5eb"/>
<rect x="527.50" y="231.40" width="22.05" height="21.05" fill="#fff5ea"/>
<rect x="549.50" y="231.40" width="22.05" height="21.05" fill="#fff5ea"/>
<rect x="571.50" y="231.40" width="23.05" height="21.05" fill="#fff5ea"/>
<rect x="594.50" y="231.40" width="22.05" height="21.05" fill="#fff5eb"/>
<rect x="616.50" y="231.40" width="22.05" height="21.05" fill="#fff5ea"/>
<rect x="638.50" y="231.40" width="23.05" height="21.05" fill="#9b3203"/>
<rect x="661.50" y="231.40" width="22.10" height="21.05" fill="#fff5ea"/>
<rect x="415.50" y="252.40" width="22.05" height="20.65" fill="#fff5eb"/>
<rect x="437.50" y="252.40" width="23.05" height="20.65" fill="#fff5ea"/>
<rect x="460.50" y="252.40" width="22.05" height="20.65" fill="#fff4e9"/>
<rect x="482.50" y="252.40" width="22.05" height="20.65" fill="#fff5eb"/>
<rect x="504.50" y="252.40" width="23.05" height="20.65" fill="#fff5ea"/>
<rect x="527.50" y="252.40" width="22.05" height="20.65" fill="#fff5eb"/>
<rect x="549.50" y="252.40" width="22.05" height="20.65" fill="#fff5eb"/>
<rect x="571.50" y="252.40" width="23.05" height="20.65" fill="#fff5eb"/>
<rect x="594.50" y="252.40" width="22.05" height="20.65" fill="#fff5eb"/>
<rect x="616.50" y="252.40" width="22.05" height="20.65" fill="#fff5eb"/>
<rect x="638.50" y="252.40" width="23.05" height="20.65" fill="#fff5eb"/>
<rect x="661.50" y="252.40" width="22.10" height="20.65" fill="#a03403"/>
<path d="M437.50 20.40V273.00M460.50 20.40V273.00M482.50 20.40V273.00M504.50 20.40V273.00M527.50 20.40V273.00M549.50 20.40V273.00M571.50 20.40V273.00M594.50 20.40V273.00M616.50 20.40V273.00M638.50 20.40V273.00M661.50 20.40V273.00M415.50 41.35H683.55M415.50 62.40H683.55M415.50 83.45H683.55M415.50 104.50H683.55M415.50 125.50H683.55M415.50 147.35H683.55M415.50 168.45H683.55M415.50 189.40H683.55M415.50 210.35H683.55M415.50 231.40H683.55M415.50 252.40H683.55" stroke="#6e6259" stroke-width="0.95" fill="none" opacity="0.72"/>
<path d="M415.50 273.00V20.40H683.55" stroke="#5e5e5e" stroke-width="1.1" fill="none"/>
<path d="M683.55 20.40V273.00H415.50" stroke="#ababab" stroke-width="1.0" fill="none"/>
<text x="426.62" y="33.31" fill="#ffffff" font-size="9.6" font-weight="bold" text-anchor="middle">791</text>
<text x="448.95" y="33.31" fill="#262626" font-size="9.6" font-weight="bold" text-anchor="middle">3</text>
<text x="471.28" y="33.31" fill="#262626" font-size="9.6" font-weight="bold" text-anchor="middle">0</text>
<text x="493.62" y="33.31" fill="#262626" font-size="9.6" font-weight="bold" text-anchor="middle">2</text>
<text x="515.95" y="33.31" fill="#262626" font-size="9.6" font-weight="bold" text-anchor="middle">4</text>
<text x="538.28" y="33.31" fill="#262626" font-size="9.6" font-weight="bold" text-anchor="middle">10</text>
<text x="560.62" y="33.31" fill="#262626" font-size="9.6" font-weight="bold" text-anchor="middle">2</text>
<text x="582.95" y="33.31" fill="#262626" font-size="9.6" font-weight="bold" text-anchor="middle">2</text>
<text x="605.28" y="33.31" fill="#262626" font-size="9.6" font-weight="bold" text-anchor="middle">5</text>
<text x="627.62" y="33.31" fill="#262626" font-size="9.6" font-weight="bold" text-anchor="middle">0</text>
<text x="649.95" y="33.31" fill="#262626" font-size="9.6" font-weight="bold" text-anchor="middle">3</text>
<text x="672.28" y="33.31" fill="#262626" font-size="9.6" font-weight="bold" text-anchor="middle">2</text>
<text x="426.62" y="54.41" fill="#262626" font-size="9.6" font-weight="bold" text-anchor="middle">2</text>
<text x="448.95" y="54.41" fill="#ffffff" font-size="9.6" font-weight="bold" text-anchor="middle">671</text>
<text x="471.28" y="54.41" fill="#262626" font-size="9.6" font-weight="bold" text-anchor="middle">4</text>
<text x="493.62" y="54.41" fill="#262626" font-size="9.6" font-weight="bold" text-anchor="middle">2</text>
<text x="515.95" y="54.41" fill="#262626" font-size="9.6" font-weight="bold" text-anchor="middle">8</text>
<text x="538.28" y="54.41" fill="#262626" font-size="9.6" font-weight="bold" text-anchor="middle">3</text>
<text x="560.62" y="54.41" fill="#262626" font-size="9.6" font-weight="bold" text-anchor="middle">8</text>
<text x="582.95" y="54.41" fill="#262626" font-size="9.6" font-weight="bold" text-anchor="middle">4</text>
<text x="605.28" y="54.41" fill="#262626" font-size="9.6" font-weight="bold" text-anchor="middle">2</text>
<text x="627.62" y="54.41" fill="#262626" font-size="9.6" font-weight="bold" text-anchor="middle">3</text>
<text x="649.95" y="54.41" fill="#262626" font-size="9.6" font-weight="bold" text-anchor="middle">4</text>
<text x="672.28" y="54.41" fill="#262626" font-size="9.6" font-weight="bold" text-anchor="middle">7</text>
<text x="426.62" y="75.51" fill="#262626" font-size="9.6" font-weight="bold" text-anchor="middle">1</text>
<text x="448.95" y="75.51" fill="#262626" font-size="9.6" font-weight="bold" text-anchor="middle">5</text>
<text x="471.28" y="75.51" fill="#ffffff" font-size="9.6" font-weight="bold" text-anchor="middle">697</text>
<text x="493.62" y="75.51" fill="#262626" font-size="9.6" font-weight="bold" text-anchor="middle">4</text>
<text x="515.95" y="75.51" fill="#262626" font-size="9.6" font-weight="bold" text-anchor="middle">3</text>
<text x="538.28" y="75.51" fill="#262626" font-size="9.6" font-weight="bold" text-anchor="middle">1</text>
<text x="560.62" y="75.51" fill="#262626" font-size="9.6" font-weight="bold" text-anchor="middle">1</text>
<text x="582.95" y="75.51" fill="#262626" font-size="9.6" font-weight="bold" text-anchor="middle">6</text>
<text x="605.28" y="75.51" fill="#262626" font-size="9.6" font-weight="bold" text-anchor="middle">3</text>
<text x="627.62" y="75.51" fill="#262626" font-size="9.6" font-weight="bold" text-anchor="middle">5</text>
<text x="649.95" y="75.51" fill="#262626" font-size="9.6" font-weight="bold" text-anchor="middle">2</text>
<text x="672.28" y="75.51" fill="#262626" font-size="9.6" font-weight="bold" text-anchor="middle">11</text>
<text x="426.62" y="96.61" fill="#262626" font-size="9.6" font-weight="bold" text-anchor="middle">2</text>
<text x="448.95" y="96.61" fill="#262626" font-size="9.6" font-weight="bold" text-anchor="middle">1</text>
<text x="471.28" y="96.61" fill="#262626" font-size="9.6" font-weight="bold" text-anchor="middle">6</text>
<text x="493.62" y="96.61" fill="#ffffff" font-size="9.6" font-weight="bold" text-anchor="middle">723</text>
<text x="515.95" y="96.61" fill="#262626" font-size="9.6" font-weight="bold" text-anchor="middle">3</text>
<text x="538.28" y="96.61" fill="#262626" font-size="9.6" font-weight="bold" text-anchor="middle">5</text>
<text x="560.62" y="96.61" fill="#262626" font-size="9.6" font-weight="bold" text-anchor="middle">1</text>
<text x="582.95" y="96.61" fill="#262626" font-size="9.6" font-weight="bold" text-anchor="middle">4</text>
<text x="605.28" y="96.61" fill="#262626" font-size="9.6" font-weight="bold" text-anchor="middle">10</text>
<text x="627.62" y="96.61" fill="#262626" font-size="9.6" font-weight="bold" text-anchor="middle">1</text>
<text x="649.95" y="96.61" fill="#262626" font-size="9.6" font-weight="bold" text-anchor="middle">1</text>
<text x="672.28" y="96.61" fill="#262626" font-size="9.6" font-weight="bold" text-anchor="middle">9</text>
<text x="426.62" y="117.71" fill="#262626" font-size="9.6" font-weight="bold" text-anchor="middle">3</text>
<text x="448.95" y="117.71" fill="#262626" font-size="9.6" font-weight="bold" text-anchor="middle">6</text>
<text x="471.28" y="117.71" fill="#262626" font-size="9.6" font-weight="bold" text-anchor="middle">5</text>
<text x="493.62" y="117.71" fill="#262626" font-size="9.6" font-weight="bold" text-anchor="middle">4</text>
<text x="515.95" y="117.71" fill="#ffffff" font-size="9.6" font-weight="bold" text-anchor="middle">685</text>
<text x="538.28" y="117.71" fill="#262626" font-size="9.6" font-weight="bold" text-anchor="middle">2</text>
<text x="560.62" y="117.71" fill="#262626" font-size="9.6" font-weight="bold" text-anchor="middle">1</text>
<text x="582.95" y="117.71" fill="#262626" font-size="9.6" font-weight="bold" text-anchor="middle">4</text>
<text x="605.28" y="117.71" fill="#262626" font-size="9.6" font-weight="bold" text-anchor="middle">5</text>
<text x="627.62" y="117.71" fill="#262626" font-size="9.6" font-weight="bold" text-anchor="middle">4</text>
<text x="649.95" y="117.71" fill="#262626" font-size="9.6" font-weight="bold" text-anchor="middle">1</text>
<text x="672.28" y="117.71" fill="#262626" font-size="9.6" font-weight="bold" text-anchor="middle">2</text>
<text x="426.62" y="138.81" fill="#262626" font-size="9.6" font-weight="bold" text-anchor="middle">1</text>
<text x="448.95" y="138.81" fill="#262626" font-size="9.6" font-weight="bold" text-anchor="middle">3</text>
<text x="471.28" y="138.81" fill="#262626" font-size="9.6" font-weight="bold" text-anchor="middle">3</text>
<text x="493.62" y="138.81" fill="#262626" font-size="9.6" font-weight="bold" text-anchor="middle">4</text>
<text x="515.95" y="138.81" fill="#262626" font-size="9.6" font-weight="bold" text-anchor="middle">2</text>
<text x="538.28" y="138.81" fill="#ffffff" font-size="9.6" font-weight="bold" text-anchor="middle">736</text>
<text x="560.62" y="138.81" fill="#262626" font-size="9.6" font-weight="bold" text-anchor="middle">6</text>
<text x="582.95" y="138.81" fill="#262626" font-size="9.6" font-weight="bold" text-anchor="middle">0</text>
<text x="605.28" y="138.81" fill="#262626" font-size="9.6" font-weight="bold" text-anchor="middle">4</text>
<text x="627.62" y="138.81" fill="#262626" font-size="9.6" font-weight="bold" text-anchor="middle">0</text>
<text x="649.95" y="138.81" fill="#262626" font-size="9.6" font-weight="bold" text-anchor="middle">2</text>
<text x="672.28" y="138.81" fill="#262626" font-size="9.6" font-weight="bold" text-anchor="middle">2</text>
<text x="426.62" y="159.91" fill="#262626" font-size="9.6" font-weight="bold" text-anchor="middle">9</text>
<text x="448.95" y="159.91" fill="#262626" font-size="9.6" font-weight="bold" text-anchor="middle">2</text>
<text x="471.28" y="159.91" fill="#262626" font-size="9.6" font-weight="bold" text-anchor="middle">6</text>
<text x="493.62" y="159.91" fill="#262626" font-size="9.6" font-weight="bold" text-anchor="middle">7</text>
<text x="515.95" y="159.91" fill="#262626" font-size="9.6" font-weight="bold" text-anchor="middle">4</text>
<text x="538.28" y="159.91" fill="#262626" font-size="9.6" font-weight="bold" text-anchor="middle">5</text>
<text x="560.62" y="159.91" fill="#ffffff" font-size="9.6" font-weight="bold" text-anchor="middle">765</text>
<text x="582.95" y="159.91" fill="#262626" font-size="9.6" font-weight="bold" text-anchor="middle">8</text>
<text x="605.28" y="159.91" fill="#262626" font-size="9.6" font-weight="bold" text-anchor="middle">3</text>
<text x="627.62" y="159.91" fill="#262626" font-size="9.6" font-weight="bold" text-anchor="middle">0</text>
<text x="649.95" y="159.91" fill="#262626" font-size="9.6" font-weight="bold" text-anchor="middle">1</text>
<text x="672.28" y="159.91" fill="#262626" font-size="9.6" font-weight="bold" text-anchor="middle">2</text>
<text x="426.62" y="181.01" fill="#262626" font-size="9.6" font-weight="bold" text-anchor="middle">1</text>
<text x="448.95" y="181.01" fill="#262626" font-size="9.6" font-weight="bold" text-anchor="middle">1</text>
<text x="471.28" y="181.01" fill="#262626" font-size="9.6" font-weight="bold" text-anchor="middle">5</text>
<text x="493.62" y="181.01" fill="#262626" font-size="9.6" font-weight="bold" text-anchor="middle">2</text>
<text x="515.95" y="181.01" fill="#262626" font-size="9.6" font-weight="bold" text-anchor="middle">2</text>
<text x="538.28" y="181.01" fill="#262626" font-size="9.6" font-weight="bold" text-anchor="middle">4</text>
<text x="560.62" y="181.01" fill="#262626" font-size="9.6" font-weight="bold" text-anchor="middle">2</text>
<text x="582.95" y="181.01" fill="#ffffff" font-size="9.6" font-weight="bold" text-anchor="middle">683</text>
<text x="605.28" y="181.01" fill="#262626" font-size="9.6" font-weight="bold" text-anchor="middle">1</text>
<text x="627.62" y="181.01" fill="#262626" font-size="9.6" font-weight="bold" text-anchor="middle">3</text>
<text x="649.95" y="181.01" fill="#262626" font-size="9.6" font-weight="bold" text-anchor="middle">0</text>
<text x="672.28" y="181.01" fill="#262626" font-size="9.6" font-weight="bold" text-anchor="middle">1</text>
<text x="426.62" y="202.11" fill="#262626" font-size="9.6" font-weight="bold" text-anchor="middle">7</text>
<text x="448.95" y="202.11" fill="#262626" font-size="9.6" font-weight="bold" text-anchor="middle">4</text>
<text x="471.28" y="202.11" fill="#262626" font-size="9.6" font-weight="bold" text-anchor="middle">8</text>
<text x="493.62" y="202.11" fill="#262626" font-size="9.6" font-weight="bold" text-anchor="middle">2</text>
<text x="515.95" y="202.11" fill="#262626" font-size="9.6" font-weight="bold" text-anchor="middle">2</text>
<text x="538.28" y="202.11" fill="#262626" font-size="9.6" font-weight="bold" text-anchor="middle">1</text>
<text x="560.62" y="202.11" fill="#262626" font-size="9.6" font-weight="bold" text-anchor="middle">1</text>
<text x="582.95" y="202.11" fill="#262626" font-size="9.6" font-weight="bold" text-anchor="middle">5</text>
<text x="605.28" y="202.11" fill="#ffffff" font-size="9.6" font-weight="bold" text-anchor="middle">722</text>
<text x="627.62" y="202.11" fill="#262626" font-size="9.6" font-weight="bold" text-anchor="middle">1</text>
<text x="649.95" y="202.11" fill="#262626" font-size="9.6" font-weight="bold" text-anchor="middle">7</text>
<text x="672.28" y="202.11" fill="#262626" font-size="9.6" font-weight="bold" text-anchor="middle">1</text>
<text x="426.62" y="223.21" fill="#262626" font-size="9.6" font-weight="bold" text-anchor="middle">1</text>
<text x="448.95" y="223.21" fill="#262626" font-size="9.6" font-weight="bold" text-anchor="middle">4</text>
<text x="471.28" y="223.21" fill="#262626" font-size="9.6" font-weight="bold" text-anchor="middle">10</text>
<text x="493.62" y="223.21" fill="#262626" font-size="9.6" font-weight="bold" text-anchor="middle">2</text>
<text x="515.95" y="223.21" fill="#262626" font-size="9.6" font-weight="bold" text-anchor="middle">1</text>
<text x="538.28" y="223.21" fill="#262626" font-size="9.6" font-weight="bold" text-anchor="middle">1</text>
<text x="560.62" y="223.21" fill="#262626" font-size="9.6" font-weight="bold" text-anchor="middle">1</text>
<text x="582.95" y="223.21" fill="#262626" font-size="9.6" font-weight="bold" text-anchor="middle">2</text>
<text x="605.28" y="223.21" fill="#262626" font-size="9.6" font-weight="bold" text-anchor="middle">1</text>
<text x="627.62" y="223.21" fill="#ffffff" font-size="9.6" font-weight="bold" text-anchor="middle">695</text>
<text x="649.95" y="223.21" fill="#262626" font-size="9.6" font-weight="bold" text-anchor="middle">4</text>
<text x="672.28" y="223.21" fill="#262626" font-size="9.6" font-weight="bold" text-anchor="middle">1</text>
<text x="426.62" y="244.31" fill="#262626" font-size="9.6" font-weight="bold" text-anchor="middle">2</text>
<text x="448.95" y="244.31" fill="#262626" font-size="9.6" font-weight="bold" text-anchor="middle">2</text>
<text x="471.28" y="244.31" fill="#262626" font-size="9.6" font-weight="bold" text-anchor="middle">0</text>
<text x="493.62" y="244.31" fill="#262626" font-size="9.6" font-weight="bold" text-anchor="middle">2</text>
<text x="515.95" y="244.31" fill="#262626" font-size="9.6" font-weight="bold" text-anchor="middle">0</text>
<text x="538.28" y="244.31" fill="#262626" font-size="9.6" font-weight="bold" text-anchor="middle">2</text>
<text x="560.62" y="244.31" fill="#262626" font-size="9.6" font-weight="bold" text-anchor="middle">2</text>
<text x="582.95" y="244.31" fill="#262626" font-size="9.6" font-weight="bold" text-anchor="middle">3</text>
<text x="605.28" y="244.31" fill="#262626" font-size="9.6" font-weight="bold" text-anchor="middle">1</text>
<text x="627.62" y="244.31" fill="#262626" font-size="9.6" font-weight="bold" text-anchor="middle">2</text>
<text x="649.95" y="244.31" fill="#ffffff" font-size="9.6" font-weight="bold" text-anchor="middle">721</text>
<text x="672.28" y="244.31" fill="#262626" font-size="9.6" font-weight="bold" text-anchor="middle">3</text>
<text x="426.62" y="265.41" fill="#262626" font-size="9.6" font-weight="bold" text-anchor="middle">1</text>
<text x="448.95" y="265.41" fill="#262626" font-size="9.6" font-weight="bold" text-anchor="middle">3</text>
<text x="471.28" y="265.41" fill="#262626" font-size="9.6" font-weight="bold" text-anchor="middle">7</text>
<text x="493.62" y="265.41" fill="#262626" font-size="9.6" font-weight="bold" text-anchor="middle">1</text>
<text x="515.95" y="265.41" fill="#262626" font-size="9.6" font-weight="bold" text-anchor="middle">3</text>
<text x="538.28" y="265.41" fill="#262626" font-size="9.6" font-weight="bold" text-anchor="middle">0</text>
<text x="560.62" y="265.41" fill="#262626" font-size="9.6" font-weight="bold" text-anchor="middle">1</text>
<text x="582.95" y="265.41" fill="#262626" font-size="9.6" font-weight="bold" text-anchor="middle">1</text>
<text x="605.28" y="265.41" fill="#262626" font-size="9.6" font-weight="bold" text-anchor="middle">0</text>
<text x="627.62" y="265.41" fill="#262626" font-size="9.6" font-weight="bold" text-anchor="middle">1</text>
<text x="649.95" y="265.41" fill="#262626" font-size="9.6" font-weight="bold" text-anchor="middle">1</text>
<text x="672.28" y="265.41" fill="#ffffff" font-size="9.6" font-weight="bold" text-anchor="middle">708</text>
<text x="408.15" y="33.89" fill="#262626" font-size="11.7" font-weight="bold" text-anchor="end">L-1</text>
<text x="408.15" y="54.99" fill="#262626" font-size="11.7" font-weight="bold" text-anchor="end">L-2</text>
<text x="408.15" y="76.09" fill="#262626" font-size="11.7" font-weight="bold" text-anchor="end">L-3</text>
<text x="408.15" y="97.19" fill="#262626" font-size="11.7" font-weight="bold" text-anchor="end">L-4</text>
<text x="408.15" y="118.29" fill="#262626" font-size="11.7" font-weight="bold" text-anchor="end">L-5</text>
<text x="408.15" y="139.39" fill="#262626" font-size="11.7" font-weight="bold" text-anchor="end">L-6</text>
<text x="408.15" y="160.49" fill="#262626" font-size="11.7" font-weight="bold" text-anchor="end">L-7</text>
<text x="408.15" y="181.59" fill="#262626" font-size="11.7" font-weight="bold" text-anchor="end">L-8</text>
<text x="408.15" y="202.69" fill="#262626" font-size="11.7" font-weight="bold" text-anchor="end">L-9</text>
<text x="408.15" y="223.79" fill="#262626" font-size="11.7" font-weight="bold" text-anchor="end">L-10</text>
<text x="408.15" y="244.89" fill="#262626" font-size="11.7" font-weight="bold" text-anchor="end">L-11</text>
<text x="408.15" y="265.99" fill="#262626" font-size="11.7" font-weight="bold" text-anchor="end">L-12</text>
<text transform="translate(429.97,282.70) rotate(-90) scale(0.86,1.12)" fill="#262626" stroke="#262626" stroke-width="0.35" font-size="11.7" font-weight="bold" text-anchor="end">L-1</text>
<text transform="translate(452.30,282.70) rotate(-90) scale(0.86,1.12)" fill="#262626" stroke="#262626" stroke-width="0.35" font-size="11.7" font-weight="bold" text-anchor="end">L-2</text>
<text transform="translate(474.63,282.70) rotate(-90) scale(0.86,1.12)" fill="#262626" stroke="#262626" stroke-width="0.35" font-size="11.7" font-weight="bold" text-anchor="end">L-3</text>
<text transform="translate(496.97,282.70) rotate(-90) scale(0.86,1.12)" fill="#262626" stroke="#262626" stroke-width="0.35" font-size="11.7" font-weight="bold" text-anchor="end">L-4</text>
<text transform="translate(519.30,282.70) rotate(-90) scale(0.86,1.12)" fill="#262626" stroke="#262626" stroke-width="0.35" font-size="11.7" font-weight="bold" text-anchor="end">L-5</text>
<text transform="translate(541.63,282.70) rotate(-90) scale(0.86,1.12)" fill="#262626" stroke="#262626" stroke-width="0.35" font-size="11.7" font-weight="bold" text-anchor="end">L-6</text>
<text transform="translate(563.97,282.70) rotate(-90) scale(0.86,1.12)" fill="#262626" stroke="#262626" stroke-width="0.35" font-size="11.7" font-weight="bold" text-anchor="end">L-7</text>
<text transform="translate(586.30,282.70) rotate(-90) scale(0.86,1.12)" fill="#262626" stroke="#262626" stroke-width="0.35" font-size="11.7" font-weight="bold" text-anchor="end">L-8</text>
<text transform="translate(608.63,282.70) rotate(-90) scale(0.86,1.12)" fill="#262626" stroke="#262626" stroke-width="0.35" font-size="11.7" font-weight="bold" text-anchor="end">L-9</text>
<text transform="translate(630.97,282.70) rotate(-90) scale(0.86,1.12)" fill="#262626" stroke="#262626" stroke-width="0.35" font-size="11.7" font-weight="bold" text-anchor="end">L-10</text>
<text transform="translate(653.30,282.70) rotate(-90) scale(0.86,1.12)" fill="#262626" stroke="#262626" stroke-width="0.35" font-size="11.7" font-weight="bold" text-anchor="end">L-11</text>
<text transform="translate(675.63,282.70) rotate(-90) scale(0.86,1.12)" fill="#262626" stroke="#262626" stroke-width="0.35" font-size="11.7" font-weight="bold" text-anchor="end">L-12</text>
<path d="M412.85 30.95H415.45M412.85 52.05H415.45M412.85 73.15H415.45M412.85 94.25H415.45M412.85 115.35H415.45M412.85 136.45H415.45M412.85 157.55H415.45M412.85 178.65H415.45M412.85 199.75H415.45M412.85 220.85H415.45M412.85 241.95H415.45M412.85 263.05H415.45M426.62 273.00V275.80M448.95 273.00V275.80M471.28 273.00V275.80M493.62 273.00V275.80M515.95 273.00V275.80M538.28 273.00V275.80M560.62 273.00V275.80M582.95 273.00V275.80M605.28 273.00V275.80M627.62 273.00V275.80M649.95 273.00V275.80M672.28 273.00V275.80" stroke="#777" stroke-width="0.9" fill="none"/>
<text x="549.45" y="10.9" fill="#333" font-size="13.3" font-weight="bold" text-anchor="middle">Testing Phase (30%) - Confusion Matrix</text>
<text transform="translate(549.45,322.7) scale(1.045,1)" fill="#333" font-size="13.8" font-weight="bold" text-anchor="middle">Predicted</text>
<text transform="translate(11.6,147.6) rotate(-90) scale(1.06,1)" fill="#333" font-size="13.3" font-weight="bold" text-anchor="middle">Actual</text>
<text transform="translate(369.0,147.6) rotate(-90) scale(1.06,1)" fill="#333" font-size="13.3" font-weight="bold" text-anchor="middle">Actual</text>
<rect x="49.80" y="379.50" width="276.20" height="262.90" fill="#fff"/>
<path d="M49.80 642.25H326.00M74.85 379.50V642.40M49.80 618.35H326.00M87.41 379.50V642.40M49.80 606.41H326.00M99.97 379.50V642.40M49.80 594.46H326.00M125.07 379.50V642.40M49.80 570.57H326.00M137.63 379.50V642.40M49.80 558.63H326.00M150.19 379.50V642.40M49.80 546.68H326.00M175.30 379.50V642.40M49.80 522.79H326.00M187.85 379.50V642.40M49.80 510.85H326.00M200.41 379.50V642.40M49.80 498.90H326.00M225.51 379.50V642.40M49.80 475.01H326.00M238.07 379.50V642.40M49.80 463.07H326.00M250.62 379.50V642.40M49.80 451.12H326.00M275.74 379.50V642.40M49.80 427.23H326.00M288.29 379.50V642.40M49.80 415.29H326.00M300.85 379.50V642.40M49.80 403.34H326.00M325.96 379.50V642.40" stroke="#ececec" stroke-width="0.8" fill="none"/>
<path d="M62.30 379.50V642.40M49.80 630.30H326.00M112.52 379.50V642.40M49.80 582.52H326.00M162.74 379.50V642.40M49.80 534.74H326.00M212.96 379.50V642.40M49.80 486.96H326.00M263.18 379.50V642.40M49.80 439.18H326.00M313.40 379.50V642.40M49.80 391.40H326.00" stroke="#b4b4b4" stroke-width="0.8" stroke-dasharray="2.1 1.3" fill="none"/>
<path d="M82.4 391.4 L84.0 391.5 L85.6 391.7 L87.2 391.8 L87.4 391.8 L88.8 391.8 L90.4 391.8 L92.0 391.9 L93.6 391.9 L95.1 391.9 L96.7 391.9 L98.3 392.0 L99.9 392.0 L101.5 392.0 L103.1 392.0 L104.7 392.0 L106.3 392.0 L107.9 392.1 L109.5 392.1 L111.1 392.1 L112.5 392.1 L112.7 392.1 L114.3 392.1 L115.9 392.2 L117.5 392.2 L119.1 392.2 L120.7 392.2 L122.3 392.3 L123.9 392.3 L125.5 392.3 L127.1 392.3 L128.7 392.4 L130.3 392.4 L131.9 392.4 L133.5 392.4 L135.1 392.5 L136.7 392.5 L138.3 392.5 L139.9 392.5 L141.5 392.6 L143.1 392.6 L144.7 392.6 L146.3 392.6 L147.9 392.6 L149.5 392.7 L151.1 392.7 L152.7 392.7 L154.2 392.7 L155.8 392.7 L157.4 392.8 L159.0 392.8 L160.6 392.8 L162.2 392.8 L162.7 392.8 L163.8 392.8 L165.4 392.9 L167.0 392.9 L168.6 392.9 L170.2 392.9 L171.8 392.9 L173.4 392.9 L175.0 393.0 L176.6 393.0 L178.2 393.0 L179.8 393.0 L181.4 393.0 L183.0 393.0 L184.6 393.1 L186.2 393.1 L187.8 393.1 L189.4 393.1 L191.0 393.1 L192.6 393.1 L194.2 393.1 L195.8 393.2 L197.4 393.2 L199.0 393.2 L200.6 393.2 L202.2 393.2 L203.8 393.2 L205.4 393.2 L207.0 393.3 L208.6 393.3 L210.2 393.3 L211.7 393.3 L213.0 393.3 L213.3 393.3 L214.9 393.3 L216.5 393.3 L218.1 393.4 L219.7 393.4 L221.3 393.4 L222.9 393.4 L224.5 393.4 L226.1 393.4 L227.7 393.4 L229.3 393.4 L230.9 393.5 L232.5 393.5 L234.1 393.5 L235.7 393.5 L237.3 393.5 L238.9 393.5 L240.5 393.5 L242.1 393.6 L243.7 393.6 L245.3 393.6 L246.9 393.6 L248.5 393.6 L250.1 393.7 L250.6 393.7 L251.7 393.7 L253.3 393.7 L254.9 393.7 L256.5 393.8 L258.1 393.8 L259.7 393.9 L261.3 393.9 L262.9 394.0 L264.5 394.0 L266.1 394.1 L267.6 394.1 L268.2 394.1 L269.2 394.2 L270.8 394.2 L272.4 394.3 L274.0 394.3 L275.6 394.4 L277.2 394.5 L278.8 394.6 L280.4 394.7 L281.0 394.7 L282.0 394.9 L283.6 395.1 L285.1 395.5 L286.7 396.0 L288.2 396.4 L288.3 396.4 L289.7 396.9 L291.2 397.4 L292.7 397.9 L294.2 398.5 L295.7 399.2 L297.2 399.8 L298.6 400.4 L300.1 401.1 L300.8 401.4 L301.6 401.7 L303.2 402.4 L304.6 403.1 L304.9 403.3 L305.5 404.0 L306.3 405.2 L307.0 406.6 L307.7 408.1 L308.3 409.7 L308.8 411.3 L309.3 413.0 L309.6 414.7 L309.8 416.3 L309.9 416.7 L310.0 417.9 L310.2 419.4 L310.3 421.0 L310.4 422.6 L310.5 424.2 L310.6 425.8 L310.7 427.4 L310.8 429.0 L310.9 430.6 L310.9 432.2 L311.0 433.8 L311.0 435.4 L311.1 437.1 L311.1 438.7 L311.1 439.2 L311.2 440.3 L311.2 441.8 L311.2 443.4 L311.2 445.0 L311.3 446.6 L311.3 448.2 L311.3 449.8 L311.3 451.4 L311.4 453.0 L311.4 454.6 L311.4 456.2 L311.4 457.8 L311.5 459.4 L311.5 461.0 L311.5 462.6 L311.5 464.2 L311.5 465.8 L311.5 467.4 L311.6 469.0 L311.6 470.6 L311.6 472.2 L311.6 473.8 L311.6 475.4 L311.6 477.0 L311.6 478.6 L311.6 480.2 L311.7 481.8 L311.7 483.4 L311.7 485.0 L311.7 486.6 L311.7 488.2 L311.7 489.8 L311.7 491.4 L311.7 493.0 L311.7 494.6 L311.8 496.2 L311.8 497.8 L311.8 499.3 L311.8 500.9 L311.8 502.5 L311.8 504.1 L311.8 505.7 L311.9 507.3 L311.9 508.9 L311.9 510.5 L311.9 510.8 L311.9 512.1 L311.9 513.7 L311.9 515.3 L312.0 516.9 L312.0 518.5 L312.0 520.1 L312.0 521.7 L312.0 523.3 L312.0 524.9 L312.1 526.5 L312.1 528.1 L312.1 529.7 L312.1 531.3 L312.1 532.9 L312.2 534.5 L312.2 536.1 L312.2 537.7 L312.2 539.3 L312.2 540.9 L312.2 542.5 L312.3 544.1 L312.3 545.7 L312.3 547.3 L312.3 548.9 L312.3 550.5 L312.3 552.1 L312.3 553.7 L312.4 555.3 L312.4 556.9 L312.4 558.4 L312.4 558.6 L312.4 560.0 L312.4 561.6 L312.4 563.2 L312.4 564.8 L312.5 566.4 L312.5 568.0 L312.5 569.6 L312.5 571.2 L312.5 572.8 L312.5 574.4 L312.5 576.0 L312.5 577.6 L312.5 579.2 L312.5 580.8 L312.5 582.4 L312.5 584.0 L312.5 585.6 L312.5 587.2 L312.6 588.8 L312.6 590.4 L312.6 592.0 L312.6 593.6 L312.6 595.2 L312.6 596.8 L312.6 598.4 L312.6 600.0 L312.6 601.6 L312.6 603.2 L312.6 604.8 L312.7 606.4 L312.7 608.0 L312.7 609.6 L312.7 611.2 L312.7 612.8 L312.7 614.4 L312.7 616.0 L312.8 617.6 L312.8 619.2 L312.8 620.8 L312.8 622.3 L312.9 623.9 L312.9 625.5 L312.9 625.5 L313.0 627.1 L313.2 628.7 L313.4 630.3" stroke="#1f77b4" stroke-opacity="0.8" stroke-width="1.7" fill="none" stroke-linejoin="round"/><path d="M213.0 393.1 L214.6 393.1 L216.2 393.1 L217.8 393.1 L219.4 393.1 L221.0 393.1 L222.6 393.1 L224.2 393.1 L225.8 393.1 L227.4 393.1 L229.0 393.2 L230.6 393.2 L232.2 393.2 L233.7 393.2 L235.3 393.2 L236.9 393.3 L238.5 393.3 L240.1 393.3 L241.7 393.4 L243.3 393.4 L244.9 393.4 L246.5 393.5 L248.1 393.5 L249.7 393.5 L250.6 393.6 L251.3 393.6 L252.9 393.6 L254.5 393.7 L256.1 393.9 L257.7 394.0 L259.2 394.2 L260.8 394.4 L262.4 394.6 L264.0 394.8 L265.6 395.1 L267.2 395.3 L268.2 395.5 L268.7 395.5 L270.3 395.8 L271.9 396.1 L273.5 396.4 L275.1 396.8 L276.6 397.2 L278.2 397.6 L279.7 398.1 L281.0 398.6 L281.1 398.6 L282.5 399.3 L283.8 400.2 L285.1 401.2 L286.4 402.1 L287.8 403.0 L288.3 403.3 L289.2 403.8 L290.6 404.5 L292.0 405.2 L293.5 405.9 L295.0 406.5 L295.8 406.9 L296.4 407.2 L297.9 407.8 L299.4 408.5 L300.8 409.3 L300.8 409.3 L301.9 410.2 L303.1 411.3 L304.2 412.6 L305.2 414.0 L306.1 415.4 L306.8 416.8 L307.1 417.7 L307.3 418.2 L307.7 419.6 L308.2 421.1 L308.6 422.6 L308.9 424.2 L309.3 425.8 L309.6 427.4 L309.9 429.0 L310.1 430.6 L310.4 432.2 L310.5 433.9 L310.7 435.5 L310.8 437.1 L310.9 438.7 L310.9 439.2 L310.9 440.3 L311.0 441.9 L311.0 443.5 L311.0 445.1 L311.0 446.6 L311.1 448.2 L311.1 449.8 L311.1 451.4 L311.1 453.0 L311.2 454.6 L311.2 456.2 L311.2 457.8 L311.2 459.4 L311.2 461.0 L311.3 462.6 L311.3 464.2 L311.3 465.8 L311.3 467.4 L311.3 469.0 L311.3 470.6 L311.3 472.2 L311.3 473.8 L311.4 475.4 L311.4 477.0 L311.4 478.6 L311.4 480.2 L311.4 481.8 L311.4 483.4 L311.4 485.0 L311.4 486.6 L311.4 488.2 L311.4 489.8 L311.4 491.4 L311.5 493.0 L311.5 494.6 L311.5 496.2 L311.5 497.8 L311.5 499.4 L311.5 501.0 L311.5 502.6 L311.6 504.2 L311.6 505.8 L311.6 507.4 L311.6 509.0 L311.6 510.6 L311.6 510.8 L311.7 512.2 L311.7 513.8 L311.7 515.4 L311.7 516.9 L311.8 518.5 L311.8 520.1 L311.8 521.7 L311.9 523.3 L311.9 524.9 L312.0 526.5 L312.0 528.1 L312.0 529.7 L312.1 531.3 L312.1 532.9 L312.2 534.5 L312.2 536.1 L312.2 537.7 L312.3 539.3 L312.3 540.9 L312.4 542.5 L312.4 544.1 L312.4 545.7 L312.5 547.3 L312.5 548.9 L312.5 550.5 L312.6 552.1 L312.6 553.7 L312.6 555.3 L312.6 556.9 L312.6 558.5 L312.6 558.6 L312.7 560.0 L312.7 561.6 L312.7 563.2 L312.7 564.8 L312.7 566.4 L312.7 568.0 L312.7 569.6 L312.8 571.2 L312.8 572.8 L312.8 574.4 L312.8 576.0 L312.8 577.6 L312.8 579.2 L312.8 580.8 L312.8 582.4 L312.8 584.0 L312.8 585.6 L312.8 587.2 L312.8 588.8 L312.8 590.4 L312.9 592.0 L312.9 593.6 L312.9 595.2 L312.9 596.8 L312.9 598.4 L312.9 600.0 L312.9 601.6 L312.9 603.2 L312.9 604.8 L312.9 606.4 L312.9 608.0 L313.0 609.6 L313.0 611.2 L313.0 612.7 L313.0 614.3 L313.0 615.9 L313.0 617.5 L313.1 619.1 L313.1 620.7 L313.1 622.3 L313.1 623.9 L313.1 625.5 L313.1 625.5 L313.2 627.1 L313.3 628.7 L313.4 630.3" stroke="#aec7e8" stroke-opacity="0.8" stroke-width="1.7" fill="none" stroke-linejoin="round"/><path d="M213.0 393.1 L214.6 393.1 L216.2 393.1 L217.8 393.1 L219.4 393.1 L221.0 393.1 L222.6 393.1 L224.2 393.1 L225.7 393.1 L227.3 393.1 L228.9 393.2 L230.5 393.2 L232.1 393.2 L233.7 393.2 L235.3 393.2 L236.9 393.3 L238.5 393.3 L240.1 393.3 L241.7 393.4 L243.3 393.4 L244.9 393.4 L246.5 393.5 L248.1 393.5 L249.7 393.5 L250.6 393.6 L251.3 393.6 L252.9 393.6 L254.5 393.7 L256.1 393.8 L257.7 393.9 L259.2 394.0 L260.8 394.2 L262.4 394.3 L264.0 394.5 L265.6 394.7 L267.2 394.8 L268.2 395.0 L268.8 395.0 L270.4 395.2 L272.0 395.4 L273.6 395.6 L275.2 395.9 L276.8 396.2 L278.3 396.5 L279.9 396.8 L281.0 397.1 L281.3 397.2 L282.8 397.8 L284.2 398.6 L285.6 399.5 L286.9 400.4 L288.2 401.4 L288.3 401.4 L289.5 402.3 L290.7 403.4 L291.9 404.4 L292.1 404.5 L293.2 405.4 L294.5 406.2 L295.9 407.1 L297.1 408.1 L297.1 408.1 L298.2 409.3 L299.3 410.5 L300.3 411.7 L300.6 412.2 L301.2 413.0 L302.2 414.3 L303.0 415.7 L303.8 417.1 L303.9 417.2 L304.4 418.5 L305.1 420.0 L305.6 421.5 L306.1 423.0 L306.5 424.6 L306.6 425.1 L306.8 426.1 L307.0 427.7 L307.2 429.3 L307.4 430.9 L307.6 432.5 L307.6 432.5 L307.9 434.0 L308.2 435.6 L308.4 437.2 L308.6 438.8 L308.6 439.2 L308.7 440.4 L308.7 442.0 L308.8 443.5 L308.8 445.1 L308.9 446.7 L308.9 448.3 L309.0 449.9 L309.0 451.5 L309.1 453.1 L309.1 454.7 L309.1 456.3 L309.2 457.9 L309.2 459.5 L309.2 461.1 L309.2 462.6 L309.3 464.2 L309.3 465.8 L309.3 467.4 L309.3 469.0 L309.3 470.6 L309.4 472.2 L309.4 473.8 L309.4 475.4 L309.4 477.0 L309.4 478.6 L309.4 480.2 L309.5 481.8 L309.5 483.4 L309.5 485.0 L309.5 486.6 L309.5 488.2 L309.5 489.8 L309.5 491.4 L309.6 493.0 L309.6 494.6 L309.6 496.2 L309.6 497.8 L309.7 499.4 L309.7 501.0 L309.7 502.6 L309.7 504.2 L309.8 505.8 L309.8 507.4 L309.8 509.0 L309.9 510.6 L309.9 510.8 L309.9 512.2 L310.0 513.8 L310.0 515.4 L310.1 517.0 L310.1 518.6 L310.2 520.2 L310.3 521.8 L310.3 523.4 L310.4 525.0 L310.5 526.6 L310.6 528.2 L310.6 529.8 L310.7 531.4 L310.8 532.9 L310.9 534.5 L310.9 536.1 L311.0 537.7 L311.1 539.3 L311.2 540.9 L311.3 542.5 L311.3 544.1 L311.4 545.7 L311.5 547.3 L311.5 548.9 L311.6 550.5 L311.7 552.1 L311.7 553.7 L311.8 555.3 L311.8 556.9 L311.9 558.5 L311.9 558.6 L311.9 560.1 L312.0 561.7 L312.0 563.3 L312.1 564.9 L312.1 566.4 L312.1 568.0 L312.2 569.6 L312.2 571.2 L312.2 572.8 L312.3 574.4 L312.3 576.0 L312.3 577.6 L312.4 579.2 L312.4 580.8 L312.4 582.4 L312.5 584.0 L312.5 585.6 L312.5 587.2 L312.6 588.8 L312.6 590.4 L312.6 592.0 L312.6 593.6 L312.7 595.2 L312.7 596.8 L312.7 598.4 L312.8 600.0 L312.8 601.6 L312.8 603.2 L312.8 604.8 L312.9 606.4 L312.9 608.0 L312.9 609.5 L313.0 611.1 L313.0 612.7 L313.0 614.3 L313.1 615.9 L313.1 617.5 L313.1 619.1 L313.2 620.7 L313.2 622.3 L313.2 623.9 L313.3 625.5 L313.3 625.5 L313.3 627.1 L313.4 628.7 L313.4 630.3" stroke="#ff7f0e" stroke-opacity="0.8" stroke-width="1.7" fill="none" stroke-linejoin="round"/><path d="M213.0 393.1 L214.6 393.1 L216.2 393.1 L217.8 393.1 L219.4 393.1 L221.0 393.1 L222.6 393.1 L224.1 393.1 L225.7 393.1 L227.3 393.2 L228.9 393.2 L230.5 393.2 L232.1 393.2 L233.7 393.2 L235.3 393.3 L236.9 393.3 L238.5 393.3 L240.1 393.3 L241.7 393.4 L243.3 393.4 L244.9 393.4 L246.5 393.5 L248.1 393.5 L249.7 393.5 L250.6 393.6 L251.3 393.6 L252.9 393.6 L254.5 393.7 L256.1 393.7 L257.7 393.8 L259.3 393.8 L260.9 393.9 L262.5 394.0 L264.1 394.1 L265.7 394.2 L267.3 394.2 L268.2 394.3 L268.9 394.3 L270.5 394.4 L272.1 394.5 L273.7 394.6 L275.3 394.7 L276.9 394.8 L278.5 394.9 L280.1 395.1 L281.0 395.2 L281.6 395.3 L283.1 395.7 L284.6 396.3 L286.1 397.0 L287.5 397.7 L288.3 398.1 L289.0 398.4 L290.5 399.0 L292.0 399.7 L293.6 400.3 L295.1 401.0 L296.6 401.7 L298.0 402.5 L299.3 403.3 L300.5 404.2 L300.8 404.5 L301.6 405.2 L302.6 406.3 L303.7 407.6 L304.7 409.0 L305.5 410.4 L306.3 411.9 L306.9 413.4 L307.1 414.1 L307.3 414.8 L307.7 416.3 L308.1 417.8 L308.4 419.3 L308.8 420.9 L309.1 422.4 L309.4 424.0 L309.6 425.6 L309.9 427.2 L310.1 428.9 L310.3 430.5 L310.5 432.1 L310.6 433.7 L310.7 435.4 L310.8 437.0 L310.9 438.6 L310.9 439.2 L310.9 440.2 L310.9 441.8 L311.0 443.3 L311.0 444.9 L311.0 446.5 L311.1 448.1 L311.1 449.7 L311.1 451.3 L311.1 452.9 L311.2 454.5 L311.2 456.1 L311.2 457.7 L311.2 459.3 L311.2 460.9 L311.3 462.5 L311.3 464.1 L311.3 465.7 L311.3 467.3 L311.3 468.9 L311.3 470.5 L311.4 472.1 L311.4 473.7 L311.4 475.3 L311.4 476.9 L311.4 478.5 L311.4 480.1 L311.4 481.7 L311.4 483.3 L311.4 484.9 L311.5 486.5 L311.5 488.1 L311.5 489.7 L311.5 491.3 L311.5 492.9 L311.5 494.5 L311.5 496.1 L311.5 497.7 L311.5 499.3 L311.6 500.9 L311.6 502.5 L311.6 504.1 L311.6 505.7 L311.6 507.3 L311.6 508.9 L311.6 510.5 L311.6 510.8 L311.7 512.1 L311.7 513.7 L311.7 515.3 L311.7 516.9 L311.7 518.5 L311.7 520.1 L311.8 521.7 L311.8 523.3 L311.8 524.9 L311.8 526.5 L311.8 528.1 L311.8 529.7 L311.9 531.3 L311.9 532.9 L311.9 534.5 L311.9 536.1 L311.9 537.6 L311.9 539.2 L312.0 540.8 L312.0 542.4 L312.0 544.0 L312.0 545.6 L312.0 547.2 L312.0 548.8 L312.1 550.4 L312.1 552.0 L312.1 553.6 L312.1 555.2 L312.1 556.8 L312.1 558.4 L312.1 558.6 L312.2 560.0 L312.2 561.6 L312.2 563.2 L312.2 564.8 L312.2 566.4 L312.2 568.0 L312.2 569.6 L312.3 571.2 L312.3 572.8 L312.3 574.4 L312.3 576.0 L312.3 577.6 L312.3 579.2 L312.3 580.8 L312.3 582.4 L312.3 584.0 L312.3 585.6 L312.4 587.2 L312.4 588.8 L312.4 590.4 L312.4 592.0 L312.4 593.6 L312.4 595.2 L312.4 596.8 L312.4 598.4 L312.5 600.0 L312.5 601.6 L312.5 603.2 L312.5 604.8 L312.5 606.4 L312.6 608.0 L312.6 609.6 L312.6 611.2 L312.6 612.8 L312.7 614.4 L312.7 616.0 L312.7 617.6 L312.7 619.2 L312.8 620.8 L312.8 622.3 L312.9 623.9 L312.9 625.5 L312.9 625.5 L313.0 627.1 L313.2 628.7 L313.4 630.3" stroke="#ffbb78" stroke-opacity="0.8" stroke-width="1.7" fill="none" stroke-linejoin="round"/><path d="M213.0 393.1 L214.6 393.1 L216.2 393.1 L217.8 393.1 L219.4 393.1 L221.0 393.1 L222.6 393.1 L224.2 393.1 L225.8 393.1 L227.4 393.2 L229.0 393.2 L230.6 393.2 L232.2 393.2 L233.8 393.2 L235.4 393.3 L236.9 393.3 L238.5 393.3 L240.1 393.3 L241.7 393.4 L243.3 393.4 L244.9 393.4 L246.5 393.5 L248.1 393.5 L249.7 393.5 L250.6 393.6 L251.3 393.6 L252.9 393.6 L254.5 393.6 L256.1 393.7 L257.7 393.8 L259.3 393.8 L260.9 393.9 L262.5 393.9 L264.1 394.0 L265.7 394.1 L267.3 394.2 L268.2 394.2 L268.9 394.2 L270.5 394.3 L272.1 394.4 L273.7 394.5 L275.3 394.5 L276.9 394.6 L278.5 394.7 L280.1 394.9 L281.0 395.0 L281.7 395.1 L283.2 395.4 L284.8 395.9 L286.3 396.5 L287.8 397.1 L288.3 397.4 L289.2 397.8 L290.7 398.4 L292.2 399.1 L293.6 399.9 L295.1 400.7 L296.5 401.5 L297.8 402.4 L299.1 403.3 L300.3 404.3 L300.8 404.8 L301.4 405.3 L302.6 406.5 L303.6 407.7 L304.7 409.0 L305.6 410.4 L306.4 411.8 L306.9 412.9 L307.0 413.2 L307.5 414.6 L307.9 416.1 L308.3 417.7 L308.7 419.3 L309.0 420.9 L309.2 422.5 L309.5 424.1 L309.5 424.4 L309.7 425.7 L309.9 427.3 L310.1 428.9 L310.3 430.4 L310.4 432.0 L310.6 433.6 L310.7 435.2 L310.8 436.8 L310.9 438.4 L310.9 439.2 L310.9 440.0 L310.9 441.6 L311.0 443.2 L311.0 444.8 L311.0 446.4 L311.1 448.0 L311.1 449.6 L311.1 451.2 L311.1 452.8 L311.2 454.4 L311.2 456.0 L311.2 457.6 L311.2 459.2 L311.2 460.8 L311.3 462.4 L311.3 464.0 L311.3 465.6 L311.3 467.2 L311.3 468.8 L311.3 470.4 L311.4 472.0 L311.4 473.6 L311.4 475.2 L311.4 476.8 L311.4 478.4 L311.4 480.0 L311.4 481.6 L311.4 483.2 L311.4 484.8 L311.5 486.4 L311.5 488.0 L311.5 489.6 L311.5 491.2 L311.5 492.8 L311.5 494.4 L311.5 496.0 L311.5 497.6 L311.5 499.2 L311.6 500.8 L311.6 502.4 L311.6 504.0 L311.6 505.6 L311.6 507.2 L311.6 508.8 L311.6 510.4 L311.6 510.8 L311.7 512.0 L311.7 513.6 L311.7 515.2 L311.7 516.8 L311.7 518.4 L311.7 520.0 L311.8 521.6 L311.8 523.2 L311.8 524.8 L311.8 526.4 L311.8 528.0 L311.8 529.6 L311.9 531.2 L311.9 532.8 L311.9 534.4 L311.9 536.0 L311.9 537.6 L311.9 539.2 L312.0 540.8 L312.0 542.4 L312.0 544.0 L312.0 545.6 L312.0 547.2 L312.0 548.8 L312.1 550.4 L312.1 552.0 L312.1 553.6 L312.1 555.2 L312.1 556.8 L312.1 558.4 L312.1 558.6 L312.2 560.0 L312.2 561.6 L312.2 563.2 L312.2 564.8 L312.2 566.4 L312.2 568.0 L312.2 569.6 L312.3 571.2 L312.3 572.8 L312.3 574.4 L312.3 576.0 L312.3 577.6 L312.3 579.2 L312.3 580.8 L312.3 582.4 L312.3 584.0 L312.3 585.6 L312.4 587.2 L312.4 588.8 L312.4 590.4 L312.4 592.0 L312.4 593.6 L312.4 595.2 L312.4 596.8 L312.4 598.4 L312.5 600.0 L312.5 601.6 L312.5 603.2 L312.5 604.8 L312.5 606.4 L312.6 608.0 L312.6 609.6 L312.6 611.2 L312.6 612.8 L312.7 614.4 L312.7 616.0 L312.7 617.6 L312.7 619.2 L312.8 620.7 L312.8 622.3 L312.9 623.9 L312.9 625.5 L312.9 625.5 L313.0 627.1 L313.2 628.7 L313.4 630.3" stroke="#2ca02c" stroke-opacity="0.8" stroke-width="1.7" fill="none" stroke-linejoin="round"/><path d="M112.5 392.7 L114.1 392.7 L115.7 392.8 L117.3 392.8 L118.9 392.8 L120.5 392.9 L122.1 392.9 L123.7 392.9 L125.3 393.0 L126.9 393.0 L128.5 393.0 L130.1 393.1 L131.7 393.1 L133.3 393.1 L134.9 393.1 L136.5 393.2 L138.1 393.2 L139.7 393.2 L141.3 393.2 L142.9 393.3 L144.5 393.3 L146.1 393.3 L147.7 393.3 L149.3 393.4 L150.9 393.4 L152.5 393.4 L154.1 393.4 L155.7 393.5 L157.2 393.5 L158.8 393.5 L160.4 393.5 L162.0 393.5 L162.7 393.6 L163.6 393.6 L165.2 393.6 L166.8 393.6 L168.4 393.6 L170.0 393.6 L171.6 393.7 L173.2 393.7 L174.8 393.7 L176.4 393.7 L178.0 393.7 L179.6 393.7 L181.2 393.8 L182.8 393.8 L184.4 393.8 L186.0 393.8 L187.6 393.8 L189.2 393.8 L190.8 393.8 L192.4 393.9 L194.0 393.9 L195.6 393.9 L197.2 393.9 L198.8 393.9 L200.4 393.9 L202.0 393.9 L203.6 394.0 L205.2 394.0 L206.8 394.0 L208.4 394.0 L210.0 394.0 L211.6 394.0 L213.0 394.0 L213.2 394.0 L214.8 394.0 L216.4 394.1 L218.0 394.1 L219.6 394.1 L221.2 394.1 L222.8 394.1 L224.3 394.1 L225.9 394.1 L227.5 394.1 L229.1 394.2 L230.7 394.2 L232.3 394.2 L233.9 394.2 L235.5 394.2 L237.1 394.2 L238.7 394.2 L240.3 394.2 L241.9 394.2 L243.5 394.3 L245.1 394.3 L246.7 394.3 L248.3 394.3 L249.9 394.3 L250.6 394.3 L251.5 394.3 L253.1 394.2 L254.7 394.2 L256.3 394.1 L257.9 394.1 L259.5 394.0 L261.1 394.0 L262.7 393.9 L264.3 393.8 L265.9 393.8 L267.5 393.8 L268.2 393.8 L269.1 393.8 L270.7 393.8 L272.3 393.8 L273.9 393.8 L275.5 393.8 L277.1 393.8 L278.7 393.8 L280.3 393.8 L281.0 393.8 L281.9 393.8 L283.4 393.9 L285.0 394.2 L286.6 394.4 L288.2 394.7 L288.3 394.7 L289.8 395.0 L291.4 395.3 L293.0 395.6 L294.6 395.9 L296.1 396.3 L297.7 396.8 L299.2 397.2 L300.6 397.8 L300.8 397.9 L302.0 398.4 L303.4 399.3 L304.7 400.3 L305.9 401.4 L306.4 401.9 L306.9 402.6 L307.9 403.9 L308.8 405.3 L309.3 406.8 L309.4 406.9 L309.7 408.3 L310.0 409.8 L310.2 411.4 L310.3 413.1 L310.4 413.9 L310.4 414.7 L310.5 416.2 L310.6 417.8 L310.7 419.4 L310.7 421.0 L310.8 422.6 L310.8 424.2 L310.9 425.8 L310.9 427.2 L310.9 427.4 L310.9 429.0 L311.0 430.6 L311.0 432.2 L311.0 433.8 L311.1 435.4 L311.1 437.0 L311.1 438.6 L311.1 439.2 L311.2 440.2 L311.2 441.8 L311.2 443.4 L311.2 445.0 L311.2 446.6 L311.2 448.2 L311.2 449.8 L311.3 451.4 L311.3 453.0 L311.3 454.6 L311.3 456.2 L311.3 457.8 L311.3 459.4 L311.3 461.0 L311.3 462.6 L311.4 464.2 L311.4 465.8 L311.4 467.4 L311.4 469.0 L311.4 470.6 L311.4 472.2 L311.4 473.8 L311.4 475.4 L311.4 477.0 L311.4 478.6 L311.4 480.2 L311.4 481.8 L311.5 483.3 L311.5 484.9 L311.5 486.5 L311.5 488.1 L311.5 489.7 L311.5 491.3 L311.5 492.9 L311.5 494.5 L311.5 496.1 L311.5 497.7 L311.5 499.3 L311.6 500.9 L311.6 502.5 L311.6 504.1 L311.6 505.7 L311.6 507.3 L311.6 508.9 L311.6 510.5 L311.6 510.8 L311.7 512.1 L311.7 513.7 L311.7 515.3 L311.7 516.9 L311.7 518.5 L311.8 520.1 L311.8 521.7 L311.8 523.3 L311.8 524.9 L311.9 526.5 L311.9 528.1 L311.9 529.7 L312.0 531.3 L312.0 532.9 L312.0 534.5 L312.0 536.1 L312.1 537.7 L312.1 539.3 L312.1 540.9 L312.2 542.5 L312.2 544.1 L312.2 545.7 L312.2 547.3 L312.3 548.8 L312.3 550.4 L312.3 552.0 L312.3 553.6 L312.4 555.2 L312.4 556.8 L312.4 558.4 L312.4 558.6 L312.4 560.0 L312.4 561.6 L312.4 563.2 L312.5 564.8 L312.5 566.4 L312.5 568.0 L312.5 569.6 L312.5 571.2 L312.5 572.8 L312.5 574.4 L312.5 576.0 L312.5 577.6 L312.5 579.2 L312.5 580.8 L312.5 582.4 L312.5 584.0 L312.6 585.6 L312.6 587.2 L312.6 588.8 L312.6 590.4 L312.6 592.0 L312.6 593.6 L312.6 595.2 L312.6 596.8 L312.6 598.4 L312.6 600.0 L312.6 601.6 L312.6 603.2 L312.6 604.8 L312.7 606.4 L312.7 608.0 L312.7 609.6 L312.7 611.2 L312.7 612.8 L312.7 614.4 L312.8 616.0 L312.8 617.6 L312.8 619.2 L312.8 620.8 L312.8 622.3 L312.9 623.9 L312.9 625.5 L312.9 625.5 L313.0 627.1 L313.2 628.7 L313.4 630.3" stroke="#98df8a" stroke-opacity="0.8" stroke-width="1.7" fill="none" stroke-linejoin="round"/><path d="M82.4 391.4 L84.0 391.5 L85.6 391.7 L87.2 391.8 L87.4 391.8 L88.8 391.8 L90.4 391.8 L92.0 391.9 L93.6 391.9 L95.2 391.9 L96.8 391.9 L98.4 392.0 L100.0 392.0 L101.5 392.0 L103.1 392.0 L104.7 392.0 L106.3 392.0 L107.9 392.1 L109.5 392.1 L111.1 392.1 L112.5 392.1 L112.7 392.1 L114.3 392.1 L115.9 392.2 L117.5 392.2 L119.1 392.2 L120.7 392.2 L122.3 392.3 L123.9 392.3 L125.5 392.3 L127.1 392.3 L128.7 392.4 L130.3 392.4 L131.9 392.4 L133.5 392.4 L135.1 392.5 L136.7 392.5 L138.3 392.5 L139.9 392.5 L141.5 392.6 L143.1 392.6 L144.7 392.6 L146.3 392.6 L147.9 392.6 L149.5 392.7 L151.1 392.7 L152.7 392.7 L154.3 392.7 L155.9 392.8 L157.5 392.8 L159.1 392.8 L160.7 392.8 L162.3 392.8 L162.7 392.8 L163.9 392.8 L165.5 392.9 L167.1 392.9 L168.7 392.9 L170.3 392.9 L171.9 392.9 L173.5 392.9 L175.1 393.0 L176.7 393.0 L178.3 393.0 L179.9 393.0 L181.5 393.0 L183.1 393.0 L184.7 393.1 L186.3 393.1 L187.9 393.1 L189.5 393.1 L191.1 393.1 L192.7 393.1 L194.2 393.1 L195.8 393.2 L197.4 393.2 L199.0 393.2 L200.6 393.2 L202.2 393.2 L203.8 393.2 L205.4 393.2 L207.0 393.3 L208.6 393.3 L210.2 393.3 L211.8 393.3 L213.0 393.3 L213.4 393.3 L215.0 393.3 L216.6 393.3 L218.2 393.4 L219.8 393.4 L221.4 393.4 L223.0 393.4 L224.6 393.4 L226.2 393.4 L227.8 393.4 L229.4 393.4 L231.0 393.4 L232.6 393.5 L234.2 393.5 L235.8 393.5 L237.4 393.5 L239.0 393.5 L240.6 393.5 L242.2 393.5 L243.8 393.6 L245.4 393.6 L247.0 393.6 L248.6 393.6 L250.2 393.7 L250.6 393.7 L251.8 393.7 L253.4 393.8 L255.0 393.9 L256.6 394.0 L258.2 394.1 L259.8 394.2 L261.4 394.4 L263.0 394.6 L264.5 394.8 L266.1 395.0 L267.7 395.1 L268.2 395.2 L269.3 395.4 L270.9 395.6 L272.4 395.9 L274.0 396.2 L275.6 396.5 L277.2 396.9 L278.7 397.2 L280.3 397.6 L281.0 397.9 L281.8 398.1 L283.3 398.6 L284.8 399.2 L286.2 399.9 L287.7 400.5 L288.3 400.7 L289.2 401.1 L290.8 401.6 L292.4 402.1 L294.0 402.6 L295.6 403.1 L297.1 403.6 L298.5 404.2 L299.9 404.9 L300.8 405.5 L301.1 405.7 L302.2 406.6 L303.3 407.8 L304.4 409.1 L305.3 410.5 L306.2 412.0 L306.9 413.4 L307.1 414.1 L307.4 414.9 L307.9 416.4 L308.3 417.9 L308.7 419.5 L309.1 421.1 L309.3 422.7 L309.6 424.3 L309.6 424.8 L309.7 425.8 L309.9 427.4 L310.1 429.0 L310.2 430.6 L310.3 432.2 L310.4 433.8 L310.5 435.4 L310.6 437.0 L310.6 438.6 L310.6 439.2 L310.7 440.2 L310.7 441.8 L310.7 443.4 L310.7 445.0 L310.7 446.6 L310.8 448.2 L310.8 449.8 L310.8 451.4 L310.8 453.0 L310.8 454.6 L310.8 456.2 L310.9 457.8 L310.9 459.4 L310.9 461.0 L310.9 462.6 L310.9 464.2 L310.9 465.8 L310.9 467.4 L310.9 469.0 L310.9 470.6 L310.9 472.2 L310.9 473.8 L311.0 475.4 L311.0 477.0 L311.0 478.6 L311.0 480.2 L311.0 481.8 L311.0 483.4 L311.0 485.0 L311.0 486.6 L311.0 488.2 L311.0 489.8 L311.0 491.4 L311.0 493.0 L311.0 494.6 L311.0 496.1 L311.1 497.7 L311.1 499.3 L311.1 500.9 L311.1 502.5 L311.1 504.1 L311.1 505.7 L311.1 507.3 L311.1 508.9 L311.1 510.5 L311.1 510.8 L311.2 512.1 L311.2 513.7 L311.2 515.3 L311.2 516.9 L311.2 518.5 L311.2 520.1 L311.2 521.7 L311.3 523.3 L311.3 524.9 L311.3 526.5 L311.3 528.1 L311.3 529.7 L311.3 531.3 L311.4 532.9 L311.4 534.5 L311.4 536.1 L311.4 537.7 L311.4 539.3 L311.4 540.9 L311.5 542.5 L311.5 544.1 L311.5 545.7 L311.5 547.3 L311.5 548.9 L311.6 550.5 L311.6 552.1 L311.6 553.7 L311.6 555.3 L311.6 556.9 L311.6 558.5 L311.6 558.6 L311.7 560.1 L311.7 561.7 L311.7 563.3 L311.7 564.9 L311.7 566.5 L311.7 568.1 L311.7 569.7 L311.7 571.3 L311.8 572.9 L311.8 574.5 L311.8 576.1 L311.8 577.7 L311.8 579.3 L311.8 580.9 L311.8 582.5 L311.8 584.1 L311.8 585.7 L311.8 587.3 L311.8 589.0 L311.9 590.6 L311.9 592.2 L311.9 593.8 L311.9 595.4 L311.9 597.0 L311.9 598.6 L311.9 600.2 L312.0 601.8 L312.0 603.4 L312.0 605.0 L312.0 606.6 L312.0 608.2 L312.1 609.8 L312.1 611.3 L312.1 612.9 L312.1 614.5 L312.2 616.1 L312.2 617.7 L312.2 619.3 L312.3 620.9 L312.3 622.5 L312.4 624.0 L312.4 625.5 L312.4 625.6 L312.6 627.2 L313.0 628.7 L313.4 630.3" stroke="#d62728" stroke-opacity="0.8" stroke-width="1.7" fill="none" stroke-linejoin="round"/><path d="M213.0 393.1 L214.6 393.1 L216.2 393.1 L217.8 393.1 L219.4 393.1 L221.0 393.1 L222.6 393.1 L224.2 393.1 L225.8 393.1 L227.3 393.2 L228.9 393.2 L230.5 393.2 L232.1 393.2 L233.7 393.2 L235.3 393.3 L236.9 393.3 L238.5 393.3 L240.1 393.3 L241.7 393.4 L243.3 393.4 L244.9 393.4 L246.5 393.5 L248.1 393.5 L249.7 393.5 L250.6 393.6 L251.3 393.6 L252.9 393.6 L254.5 393.7 L256.1 393.7 L257.7 393.8 L259.3 393.9 L260.9 394.0 L262.5 394.1 L264.1 394.2 L265.7 394.3 L267.3 394.4 L268.2 394.5 L268.9 394.5 L270.5 394.6 L272.1 394.7 L273.7 394.8 L275.3 395.0 L276.9 395.1 L278.5 395.3 L280.0 395.5 L281.0 395.7 L281.6 395.8 L283.1 396.3 L284.6 396.9 L286.0 397.5 L287.5 398.2 L288.3 398.6 L289.0 398.9 L290.5 399.5 L292.0 400.1 L293.6 400.7 L295.1 401.3 L296.6 402.0 L298.0 402.7 L299.3 403.5 L300.6 404.3 L300.8 404.5 L301.7 405.3 L302.9 406.4 L304.0 407.7 L305.1 409.0 L306.0 410.4 L306.7 411.8 L307.1 412.9 L307.2 413.2 L307.6 414.6 L308.0 416.1 L308.3 417.6 L308.6 419.1 L309.0 420.7 L309.2 422.3 L309.5 423.9 L309.7 425.5 L310.0 427.1 L310.2 428.8 L310.3 430.4 L310.5 432.1 L310.6 433.7 L310.7 435.3 L310.8 437.0 L310.9 438.6 L310.9 439.2 L310.9 440.2 L310.9 441.7 L311.0 443.3 L311.0 444.9 L311.0 446.5 L311.1 448.1 L311.1 449.7 L311.1 451.3 L311.1 452.9 L311.2 454.5 L311.2 456.1 L311.2 457.7 L311.2 459.3 L311.2 460.9 L311.3 462.5 L311.3 464.1 L311.3 465.7 L311.3 467.3 L311.3 468.9 L311.3 470.5 L311.4 472.1 L311.4 473.7 L311.4 475.3 L311.4 476.9 L311.4 478.5 L311.4 480.1 L311.4 481.7 L311.4 483.3 L311.4 484.9 L311.5 486.5 L311.5 488.1 L311.5 489.7 L311.5 491.3 L311.5 492.9 L311.5 494.5 L311.5 496.1 L311.5 497.7 L311.5 499.3 L311.6 500.9 L311.6 502.5 L311.6 504.1 L311.6 505.7 L311.6 507.3 L311.6 508.9 L311.6 510.5 L311.6 510.8 L311.7 512.1 L311.7 513.7 L311.7 515.3 L311.7 516.9 L311.7 518.5 L311.7 520.1 L311.8 521.7 L311.8 523.3 L311.8 524.9 L311.8 526.5 L311.8 528.1 L311.8 529.7 L311.9 531.2 L311.9 532.8 L311.9 534.4 L311.9 536.0 L311.9 537.6 L311.9 539.2 L312.0 540.8 L312.0 542.4 L312.0 544.0 L312.0 545.6 L312.0 547.2 L312.0 548.8 L312.1 550.4 L312.1 552.0 L312.1 553.6 L312.1 555.2 L312.1 556.8 L312.1 558.4 L312.1 558.6 L312.2 560.0 L312.2 561.6 L312.2 563.2 L312.2 564.8 L312.2 566.4 L312.2 568.0 L312.2 569.6 L312.3 571.2 L312.3 572.8 L312.3 574.4 L312.3 576.0 L312.3 577.6 L312.3 579.2 L312.3 580.8 L312.3 582.4 L312.3 584.0 L312.3 585.6 L312.4 587.2 L312.4 588.8 L312.4 590.4 L312.4 592.0 L312.4 593.6 L312.4 595.2 L312.4 596.8 L312.4 598.4 L312.5 600.0 L312.5 601.6 L312.5 603.2 L312.5 604.8 L312.5 606.4 L312.6 608.0 L312.6 609.6 L312.6 611.2 L312.6 612.8 L312.7 614.4 L312.7 616.0 L312.7 617.6 L312.7 619.2 L312.8 620.8 L312.8 622.3 L312.9 623.9 L312.9 625.5 L312.9 625.5 L313.0 627.1 L313.2 628.7 L313.4 630.3" stroke="#ff9896" stroke-opacity="0.8" stroke-width="1.7" fill="none" stroke-linejoin="round"/><path d="M213.0 393.1 L214.6 393.1 L216.1 393.1 L217.7 393.1 L219.3 393.1 L220.9 393.1 L222.5 393.1 L224.1 393.1 L225.7 393.1 L227.3 393.2 L228.9 393.2 L230.5 393.2 L232.1 393.2 L233.7 393.2 L235.3 393.3 L236.9 393.3 L238.4 393.3 L240.0 393.3 L241.6 393.4 L243.2 393.4 L244.8 393.4 L246.4 393.5 L248.0 393.5 L249.6 393.5 L250.6 393.6 L251.2 393.6 L252.8 393.6 L254.4 393.7 L256.0 393.8 L257.5 393.8 L259.1 393.9 L260.7 394.0 L262.3 394.2 L263.9 394.3 L265.5 394.4 L267.1 394.5 L268.2 394.6 L268.7 394.7 L270.3 394.8 L271.9 394.9 L273.5 395.1 L275.1 395.3 L276.6 395.5 L278.2 395.7 L279.8 395.9 L281.0 396.2 L281.3 396.2 L282.8 396.7 L284.3 397.3 L285.7 398.0 L287.2 398.7 L288.3 399.3 L288.6 399.4 L290.0 400.2 L291.5 400.9 L293.0 401.6 L294.4 402.4 L295.8 403.2 L297.2 404.1 L298.5 405.0 L299.7 405.9 L300.8 406.9 L300.8 406.9 L301.9 408.0 L303.0 409.2 L304.0 410.5 L305.0 411.9 L305.9 413.3 L306.6 414.8 L307.1 416.2 L307.1 416.5 L307.4 417.7 L307.7 419.2 L308.0 420.7 L308.2 422.3 L308.4 424.0 L308.6 425.6 L308.7 427.2 L308.8 428.8 L308.9 429.6 L308.9 430.4 L309.0 432.0 L309.0 433.6 L309.1 435.2 L309.1 436.8 L309.1 438.4 L309.1 439.2 L309.1 440.0 L309.1 441.5 L309.1 443.1 L309.1 444.7 L309.0 446.3 L309.0 447.9 L308.9 449.5 L308.9 451.1 L308.8 452.7 L308.8 454.3 L308.7 455.9 L308.7 457.5 L308.7 459.1 L308.6 460.7 L308.6 462.2 L308.6 463.1 L308.6 463.8 L308.6 465.4 L308.7 467.0 L308.7 468.6 L308.8 470.2 L308.9 471.8 L308.9 473.4 L309.0 475.0 L309.1 476.6 L309.2 478.2 L309.2 479.8 L309.3 481.3 L309.3 482.9 L309.4 484.5 L309.4 486.1 L309.4 487.0 L309.4 487.7 L309.4 489.3 L309.3 490.9 L309.3 492.5 L309.3 494.1 L309.2 495.7 L309.2 497.3 L309.1 498.9 L309.1 500.5 L309.0 502.0 L309.0 503.6 L309.0 505.2 L308.9 506.8 L308.9 508.4 L308.9 510.0 L308.9 510.8 L308.9 511.6 L308.9 513.2 L308.9 514.8 L309.0 516.4 L309.0 518.0 L309.1 519.6 L309.2 521.2 L309.3 522.7 L309.3 524.3 L309.4 525.9 L309.5 527.5 L309.5 529.1 L309.6 530.7 L309.6 532.3 L309.6 533.9 L309.6 534.7 L309.6 535.5 L309.6 537.1 L309.6 538.7 L309.5 540.3 L309.5 541.8 L309.4 543.4 L309.3 545.0 L309.3 546.6 L309.2 548.2 L309.1 549.8 L309.0 551.4 L309.0 553.0 L308.9 554.6 L308.9 556.2 L308.9 557.8 L308.9 558.6 L308.9 559.4 L308.9 560.9 L309.0 562.5 L309.0 564.1 L309.1 565.7 L309.2 567.3 L309.3 568.9 L309.4 570.5 L309.5 572.1 L309.6 573.7 L309.7 575.3 L309.7 576.9 L309.8 578.4 L309.9 580.0 L309.9 581.6 L309.9 582.5 L309.9 583.2 L309.8 584.8 L309.7 586.4 L309.6 588.0 L309.4 589.6 L309.3 591.2 L309.2 592.8 L309.1 594.3 L309.1 594.5 L309.2 595.9 L309.3 597.5 L309.4 599.1 L309.6 600.7 L309.8 602.3 L309.9 603.9 L310.1 605.5 L310.1 606.4 L310.2 607.0 L310.2 608.6 L310.3 610.3 L310.3 611.9 L310.4 613.5 L310.4 615.1 L310.5 616.8 L310.5 618.4 L310.5 620.0 L310.6 621.5 L310.7 623.1 L310.8 624.6 L310.9 625.5 L311.0 626.1 L311.6 627.5 L312.5 628.9 L313.4 630.3" stroke="#9467bd" stroke-opacity="0.8" stroke-width="1.7" fill="none" stroke-linejoin="round"/><path d="M82.4 391.4 L84.0 391.5 L85.6 391.7 L87.2 391.8 L87.4 391.8 L88.8 391.8 L90.4 391.8 L92.0 391.9 L93.5 391.9 L95.1 391.9 L96.7 391.9 L98.3 392.0 L99.9 392.0 L101.5 392.0 L103.1 392.0 L104.7 392.0 L106.3 392.0 L107.9 392.1 L109.5 392.1 L111.1 392.1 L112.5 392.1 L112.7 392.1 L114.3 392.1 L115.9 392.2 L117.5 392.2 L119.1 392.2 L120.7 392.2 L122.3 392.3 L123.9 392.3 L125.5 392.3 L127.1 392.3 L128.7 392.4 L130.3 392.4 L131.9 392.4 L133.5 392.4 L135.1 392.5 L136.7 392.5 L138.3 392.5 L139.9 392.5 L141.5 392.5 L143.0 392.6 L144.6 392.6 L146.2 392.6 L147.8 392.6 L149.4 392.7 L151.0 392.7 L152.6 392.7 L154.2 392.7 L155.8 392.7 L157.4 392.8 L159.0 392.8 L160.6 392.8 L162.2 392.8 L162.7 392.8 L163.8 392.8 L165.4 392.9 L167.0 392.9 L168.6 392.9 L170.2 392.9 L171.8 392.9 L173.4 392.9 L175.0 393.0 L176.6 393.0 L178.2 393.0 L179.8 393.0 L181.4 393.0 L183.0 393.0 L184.6 393.1 L186.2 393.1 L187.8 393.1 L189.4 393.1 L190.9 393.1 L192.5 393.1 L194.1 393.1 L195.7 393.2 L197.3 393.2 L198.9 393.2 L200.5 393.2 L202.1 393.2 L203.7 393.2 L205.3 393.2 L206.9 393.3 L208.5 393.3 L210.1 393.3 L211.7 393.3 L213.0 393.3 L213.3 393.3 L214.9 393.3 L216.5 393.3 L218.1 393.4 L219.7 393.4 L221.3 393.4 L222.9 393.4 L224.5 393.4 L226.1 393.4 L227.7 393.4 L229.3 393.4 L230.9 393.4 L232.5 393.5 L234.1 393.5 L235.7 393.5 L237.3 393.5 L238.9 393.5 L240.5 393.5 L242.0 393.6 L243.6 393.6 L245.2 393.6 L246.8 393.6 L248.4 393.6 L250.0 393.7 L250.6 393.7 L251.6 393.7 L253.2 393.7 L254.8 393.8 L256.4 393.8 L258.0 393.9 L259.6 393.9 L261.2 394.0 L262.8 394.1 L264.4 394.2 L266.0 394.3 L267.6 394.3 L268.2 394.4 L269.2 394.4 L270.8 394.5 L272.4 394.6 L274.0 394.7 L275.6 394.9 L277.2 395.0 L278.8 395.2 L280.3 395.4 L281.0 395.5 L281.9 395.6 L283.4 396.1 L284.9 396.6 L286.4 397.3 L287.9 397.9 L288.3 398.1 L289.3 398.5 L290.8 399.2 L292.4 399.8 L293.9 400.5 L295.4 401.2 L296.8 401.9 L298.2 402.7 L299.5 403.5 L300.7 404.4 L300.8 404.5 L301.9 405.4 L303.0 406.6 L304.2 407.8 L305.2 409.2 L306.1 410.6 L306.8 412.0 L307.1 412.9 L307.3 413.4 L307.6 414.8 L308.0 416.3 L308.3 417.8 L308.7 419.3 L309.0 420.8 L309.3 422.4 L309.5 424.0 L309.7 425.7 L310.0 427.3 L310.2 428.9 L310.3 430.6 L310.5 432.2 L310.6 433.9 L310.7 435.5 L310.8 437.1 L310.9 438.7 L310.9 439.2 L310.9 440.3 L311.0 441.9 L311.0 443.5 L311.0 445.1 L311.1 446.7 L311.1 448.2 L311.2 449.8 L311.2 451.4 L311.2 453.0 L311.3 454.6 L311.3 456.2 L311.3 457.8 L311.3 459.4 L311.4 461.0 L311.4 462.6 L311.4 464.2 L311.4 465.8 L311.5 467.4 L311.5 469.0 L311.5 470.6 L311.5 472.2 L311.5 473.8 L311.6 475.4 L311.6 477.0 L311.6 478.6 L311.6 480.2 L311.6 481.8 L311.6 483.4 L311.6 485.0 L311.7 486.6 L311.7 488.2 L311.7 489.8 L311.7 491.4 L311.7 493.0 L311.7 494.6 L311.7 496.2 L311.8 497.8 L311.8 499.4 L311.8 501.0 L311.8 502.6 L311.8 504.2 L311.8 505.8 L311.9 507.4 L311.9 509.0 L311.9 510.6 L311.9 510.8 L311.9 512.1 L311.9 513.7 L311.9 515.3 L312.0 516.9 L312.0 518.5 L312.0 520.1 L312.0 521.7 L312.0 523.3 L312.1 524.9 L312.1 526.5 L312.1 528.1 L312.1 529.7 L312.1 531.3 L312.1 532.9 L312.1 534.5 L312.2 536.1 L312.2 537.7 L312.2 539.3 L312.2 540.9 L312.2 542.5 L312.2 544.1 L312.3 545.7 L312.3 547.3 L312.3 548.9 L312.3 550.5 L312.3 552.1 L312.3 553.7 L312.4 555.3 L312.4 556.9 L312.4 558.5 L312.4 558.6 L312.4 560.1 L312.4 561.6 L312.4 563.2 L312.5 564.8 L312.5 566.4 L312.5 568.0 L312.5 569.6 L312.5 571.2 L312.5 572.8 L312.5 574.4 L312.5 576.0 L312.6 577.6 L312.6 579.2 L312.6 580.8 L312.6 582.4 L312.6 584.0 L312.6 585.6 L312.6 587.2 L312.6 588.8 L312.7 590.4 L312.7 592.0 L312.7 593.6 L312.7 595.2 L312.7 596.8 L312.7 598.4 L312.7 600.0 L312.8 601.6 L312.8 603.2 L312.8 604.8 L312.8 606.4 L312.8 608.0 L312.9 609.6 L312.9 611.2 L312.9 612.7 L312.9 614.3 L313.0 615.9 L313.0 617.5 L313.0 619.1 L313.0 620.7 L313.1 622.3 L313.1 623.9 L313.1 625.5 L313.1 625.5 L313.2 627.1 L313.3 628.7 L313.4 630.3" stroke="#c5b0d5" stroke-opacity="0.8" stroke-width="1.7" fill="none" stroke-linejoin="round"/><path d="M213.0 393.1 L214.6 393.1 L216.1 393.1 L217.7 393.1 L219.3 393.1 L220.9 393.1 L222.5 393.1 L224.1 393.1 L225.7 393.1 L227.3 393.2 L228.9 393.2 L230.5 393.2 L232.1 393.2 L233.7 393.2 L235.3 393.3 L236.9 393.3 L238.4 393.3 L240.0 393.3 L241.6 393.4 L243.2 393.4 L244.8 393.4 L246.4 393.5 L248.0 393.5 L249.6 393.5 L250.6 393.6 L251.2 393.6 L252.8 393.6 L254.4 393.6 L256.0 393.7 L257.5 393.7 L259.1 393.8 L260.7 393.9 L262.3 393.9 L263.9 394.0 L265.5 394.1 L267.1 394.2 L268.2 394.2 L268.7 394.2 L270.3 394.3 L271.9 394.4 L273.5 394.4 L275.1 394.5 L276.7 394.6 L278.3 394.7 L279.8 394.9 L281.0 395.0 L281.4 395.0 L282.9 395.4 L284.5 395.8 L286.0 396.4 L287.5 397.0 L288.3 397.4 L288.9 397.6 L290.4 398.3 L291.9 398.9 L293.4 399.6 L294.8 400.4 L296.3 401.1 L297.6 402.0 L299.0 402.8 L300.2 403.8 L300.8 404.3 L301.3 404.7 L302.5 405.8 L303.6 407.0 L304.6 408.3 L305.6 409.7 L306.4 411.1 L306.9 412.2 L307.0 412.5 L307.5 413.9 L307.9 415.4 L308.3 417.0 L308.7 418.6 L309.0 420.2 L309.3 421.8 L309.5 423.4 L309.5 423.4 L309.7 424.9 L309.9 426.5 L310.1 428.1 L310.3 429.7 L310.5 431.2 L310.7 432.8 L310.8 434.4 L311.0 436.0 L311.1 437.6 L311.2 439.2 L311.3 440.8 L311.4 442.4 L311.4 444.0 L311.4 444.0 L311.4 445.6 L311.4 447.1 L311.5 448.7 L311.5 450.3 L311.5 451.9 L311.5 453.5 L311.5 455.1 L311.6 456.7 L311.6 458.3 L311.6 459.9 L311.6 461.5 L311.6 463.1 L311.6 464.7 L311.6 466.2 L311.7 467.8 L311.7 469.4 L311.7 471.0 L311.7 472.6 L311.7 474.2 L311.7 475.8 L311.7 477.4 L311.7 479.0 L311.7 480.6 L311.7 482.2 L311.7 483.8 L311.7 485.4 L311.7 487.0 L311.8 488.6 L311.8 490.1 L311.8 491.7 L311.8 493.3 L311.8 494.9 L311.8 496.5 L311.8 498.1 L311.8 499.7 L311.8 501.3 L311.8 502.9 L311.8 504.5 L311.9 506.1 L311.9 507.7 L311.9 509.3 L311.9 510.8 L311.9 510.9 L311.9 512.5 L311.9 514.0 L311.9 515.6 L312.0 517.2 L312.0 518.8 L312.0 520.4 L312.0 522.0 L312.0 523.6 L312.0 525.2 L312.0 526.8 L312.1 528.4 L312.1 530.0 L312.1 531.6 L312.1 533.2 L312.1 534.8 L312.1 536.3 L312.2 537.9 L312.2 539.5 L312.2 541.1 L312.2 542.7 L312.2 544.3 L312.3 545.9 L312.3 547.5 L312.3 549.1 L312.3 550.7 L312.3 552.3 L312.3 553.9 L312.4 555.5 L312.4 557.0 L312.4 558.6 L312.4 558.6 L312.4 560.2 L312.4 561.8 L312.4 563.4 L312.5 565.0 L312.5 566.6 L312.5 568.2 L312.5 569.8 L312.5 571.4 L312.5 573.0 L312.5 574.6 L312.5 576.2 L312.6 577.8 L312.6 579.3 L312.6 580.9 L312.6 582.5 L312.6 584.1 L312.6 585.7 L312.6 587.3 L312.6 588.9 L312.7 590.5 L312.7 592.1 L312.7 593.7 L312.7 595.3 L312.7 596.9 L312.7 598.5 L312.7 600.1 L312.8 601.6 L312.8 603.2 L312.8 604.8 L312.8 606.4 L312.8 608.0 L312.9 609.6 L312.9 611.2 L312.9 612.8 L312.9 614.4 L313.0 616.0 L313.0 617.6 L313.0 619.2 L313.0 620.8 L313.1 622.3 L313.1 623.9 L313.1 625.5 L313.1 625.5 L313.2 627.1 L313.3 628.7 L313.4 630.3" stroke="#8c564b" stroke-opacity="0.8" stroke-width="1.7" fill="none" stroke-linejoin="round"/><path d="M82.4 391.4 L84.0 391.4 L85.6 391.5 L87.2 391.5 L88.8 391.5 L90.4 391.6 L92.0 391.6 L93.6 391.6 L95.2 391.7 L96.8 391.7 L98.4 391.7 L100.0 391.8 L101.6 391.8 L103.2 391.8 L104.8 391.9 L106.4 391.9 L108.0 391.9 L109.6 392.0 L111.2 392.0 L112.5 392.0 L112.8 392.0 L114.4 392.0 L116.0 392.0 L117.6 392.1 L119.2 392.1 L120.8 392.1 L122.4 392.1 L123.9 392.2 L125.5 392.2 L127.1 392.2 L128.7 392.2 L130.3 392.2 L131.9 392.3 L133.5 392.3 L135.1 392.3 L136.7 392.3 L138.3 392.3 L139.9 392.4 L141.5 392.4 L143.1 392.4 L144.7 392.4 L146.3 392.4 L147.9 392.4 L149.5 392.5 L151.1 392.5 L152.7 392.5 L154.3 392.5 L155.9 392.5 L157.5 392.5 L159.1 392.6 L160.7 392.6 L162.3 392.6 L162.7 392.6 L163.9 392.6 L165.5 392.6 L167.1 392.6 L168.7 392.7 L170.3 392.7 L171.9 392.7 L173.5 392.7 L175.1 392.7 L176.7 392.7 L178.3 392.7 L179.9 392.8 L181.5 392.8 L183.1 392.8 L184.7 392.8 L186.3 392.8 L187.9 392.8 L189.5 392.8 L191.1 392.9 L192.7 392.9 L194.3 392.9 L195.9 392.9 L197.5 392.9 L199.1 392.9 L200.7 392.9 L202.3 393.0 L203.9 393.0 L205.5 393.0 L207.1 393.0 L208.7 393.0 L210.3 393.0 L211.9 393.1 L213.0 393.1 L213.5 393.1 L215.1 393.1 L216.7 393.1 L218.3 393.1 L219.9 393.1 L221.5 393.2 L223.1 393.2 L224.7 393.2 L226.3 393.2 L227.9 393.2 L229.5 393.2 L231.1 393.3 L232.7 393.3 L234.3 393.3 L235.9 393.3 L237.5 393.3 L239.1 393.4 L240.7 393.4 L242.3 393.4 L243.9 393.4 L245.5 393.5 L247.0 393.5 L248.6 393.5 L250.2 393.5 L250.6 393.6 L251.8 393.6 L253.4 393.6 L255.0 393.7 L256.6 393.7 L258.2 393.8 L259.8 393.8 L261.4 393.9 L263.0 393.9 L264.6 394.0 L266.2 394.1 L267.8 394.1 L268.2 394.1 L269.4 394.2 L271.0 394.2 L272.6 394.3 L274.2 394.4 L275.8 394.4 L277.4 394.5 L279.0 394.6 L280.6 394.8 L281.0 394.8 L282.2 395.0 L283.7 395.3 L285.3 395.8 L286.8 396.3 L288.3 396.9 L288.3 396.9 L289.8 397.5 L291.2 398.2 L292.7 398.9 L294.1 399.7 L295.5 400.5 L296.9 401.4 L298.2 402.4 L299.4 403.3 L300.6 404.3 L300.8 404.5 L301.8 405.4 L302.9 406.5 L304.1 407.8 L305.1 409.1 L306.0 410.4 L306.7 411.8 L306.9 412.2 L307.2 413.2 L307.7 414.7 L308.1 416.2 L308.4 417.8 L308.8 419.4 L309.1 421.0 L309.4 422.6 L309.5 423.4 L309.7 424.2 L310.0 425.8 L310.2 427.4 L310.5 428.9 L310.7 430.5 L310.9 432.0 L310.9 432.1 L311.0 433.7 L311.2 435.3 L311.3 436.9 L311.4 438.5 L311.5 440.1 L311.6 441.7 L311.6 443.3 L311.6 444.9 L311.6 445.2 L311.7 446.5 L311.7 448.1 L311.7 449.7 L311.7 451.3 L311.7 452.9 L311.7 454.5 L311.7 456.1 L311.7 457.7 L311.7 459.3 L311.7 460.9 L311.8 462.4 L311.8 464.0 L311.8 465.6 L311.8 467.2 L311.8 468.8 L311.8 470.4 L311.8 472.0 L311.8 473.6 L311.8 475.2 L311.8 476.8 L311.8 478.4 L311.8 480.0 L311.8 481.6 L311.8 483.2 L311.8 484.8 L311.8 486.4 L311.8 488.0 L311.8 489.6 L311.8 491.2 L311.8 492.8 L311.8 494.4 L311.8 496.0 L311.8 497.6 L311.9 499.2 L311.9 500.8 L311.9 502.4 L311.9 504.0 L311.9 505.6 L311.9 507.2 L311.9 508.8 L311.9 510.4 L311.9 510.8 L311.9 512.0 L311.9 513.6 L311.9 515.2 L311.9 516.8 L311.9 518.4 L311.9 520.0 L311.9 521.6 L311.9 523.2 L312.0 524.8 L312.0 526.4 L312.0 528.0 L312.0 529.6 L312.0 531.2 L312.0 532.8 L312.0 534.4 L312.0 536.0 L312.0 537.6 L312.0 539.2 L312.0 540.8 L312.0 542.4 L312.1 544.0 L312.1 545.6 L312.1 547.2 L312.1 548.8 L312.1 550.4 L312.1 552.0 L312.1 553.6 L312.1 555.2 L312.1 556.8 L312.1 558.4 L312.1 558.6 L312.2 560.0 L312.2 561.6 L312.2 563.2 L312.2 564.8 L312.2 566.4 L312.2 568.0 L312.2 569.6 L312.2 571.2 L312.2 572.8 L312.2 574.4 L312.2 576.0 L312.3 577.6 L312.3 579.2 L312.3 580.8 L312.3 582.4 L312.3 584.0 L312.3 585.6 L312.3 587.2 L312.3 588.8 L312.3 590.4 L312.4 592.0 L312.4 593.6 L312.4 595.2 L312.4 596.8 L312.4 598.4 L312.4 600.0 L312.5 601.6 L312.5 603.2 L312.5 604.8 L312.5 606.4 L312.5 608.0 L312.6 609.6 L312.6 611.2 L312.6 612.8 L312.6 614.4 L312.7 616.0 L312.7 617.6 L312.7 619.2 L312.8 620.7 L312.8 622.3 L312.9 623.9 L312.9 625.5 L312.9 625.5 L313.0 627.1 L313.2 628.7 L313.4 630.3" stroke="#c49c94" stroke-opacity="0.8" stroke-width="1.7" fill="none" stroke-linejoin="round"/><path d="M62.30 630.30H313.40" stroke="#d62728" stroke-opacity="0.8" stroke-width="1.5" fill="none"/><path d="M270.71 629.82L305.87 629.34L313.40 629.34" stroke="#8c564b" stroke-opacity="0.8" stroke-width="1.5" fill="none"/><path d="M297.08 628.87C307.12 627.91 309.63 625.52 310.39 618.35L310.89 558.63" stroke="#c49c94" stroke-opacity="0.8" stroke-width="1.5" fill="none"/>
<rect x="55.30" y="412.00" width="69" height="197.4" rx="2.5" fill="#fff" fill-opacity="0.98" stroke="#e3e3e3" stroke-width="0.8"/>
<path d="M59.40 421.30h24.7" stroke="#1f77b4" stroke-opacity="0.8" stroke-width="1.5"/>
<text transform="translate(92.50,425.60) scale(1,1.12)" fill="#3a3a3a" stroke="#3a3a3a" stroke-width="0.16" font-family='"Liberation Mono", monospace' font-size="11.2">L-1</text>
<path d="M59.40 437.40h24.7" stroke="#aec7e8" stroke-opacity="0.8" stroke-width="1.5"/>
<text transform="translate(92.50,441.70) scale(1,1.12)" fill="#3a3a3a" stroke="#3a3a3a" stroke-width="0.16" font-family='"Liberation Mono", monospace' font-size="11.2">L-2</text>
<path d="M59.40 453.50h24.7" stroke="#ff7f0e" stroke-opacity="0.8" stroke-width="1.5"/>
<text transform="translate(92.50,457.80) scale(1,1.12)" fill="#3a3a3a" stroke="#3a3a3a" stroke-width="0.16" font-family='"Liberation Mono", monospace' font-size="11.2">L-3</text>
<path d="M59.40 469.60h24.7" stroke="#ffbb78" stroke-opacity="0.8" stroke-width="1.5"/>
<text transform="translate(92.50,473.90) scale(1,1.12)" fill="#3a3a3a" stroke="#3a3a3a" stroke-width="0.16" font-family='"Liberation Mono", monospace' font-size="11.2">L-4</text>
<path d="M59.40 485.70h24.7" stroke="#2ca02c" stroke-opacity="0.8" stroke-width="1.5"/>
<text transform="translate(92.50,490.00) scale(1,1.12)" fill="#3a3a3a" stroke="#3a3a3a" stroke-width="0.16" font-family='"Liberation Mono", monospace' font-size="11.2">L-5</text>
<path d="M59.40 501.80h24.7" stroke="#98df8a" stroke-opacity="0.8" stroke-width="1.5"/>
<text transform="translate(92.50,506.10) scale(1,1.12)" fill="#3a3a3a" stroke="#3a3a3a" stroke-width="0.16" font-family='"Liberation Mono", monospace' font-size="11.2">L-6</text>
<path d="M59.40 517.90h24.7" stroke="#d62728" stroke-opacity="0.8" stroke-width="1.5"/>
<text transform="translate(92.50,522.20) scale(1,1.12)" fill="#3a3a3a" stroke="#3a3a3a" stroke-width="0.16" font-family='"Liberation Mono", monospace' font-size="11.2">L-7</text>
<path d="M59.40 534.00h24.7" stroke="#ff9896" stroke-opacity="0.8" stroke-width="1.5"/>
<text transform="translate(92.50,538.30) scale(1,1.12)" fill="#3a3a3a" stroke="#3a3a3a" stroke-width="0.16" font-family='"Liberation Mono", monospace' font-size="11.2">L-8</text>
<path d="M59.40 550.10h24.7" stroke="#9467bd" stroke-opacity="0.8" stroke-width="1.5"/>
<text transform="translate(92.50,554.40) scale(1,1.12)" fill="#3a3a3a" stroke="#3a3a3a" stroke-width="0.16" font-family='"Liberation Mono", monospace' font-size="11.2">L-9</text>
<path d="M59.40 566.20h24.7" stroke="#c5b0d5" stroke-opacity="0.8" stroke-width="1.5"/>
<text transform="translate(92.50,570.50) scale(1,1.12)" fill="#3a3a3a" stroke="#3a3a3a" stroke-width="0.16" font-family='"Liberation Mono", monospace' font-size="11.2">L-10</text>
<path d="M59.40 582.30h24.7" stroke="#8c564b" stroke-opacity="0.8" stroke-width="1.5"/>
<text transform="translate(92.50,586.60) scale(1,1.12)" fill="#3a3a3a" stroke="#3a3a3a" stroke-width="0.16" font-family='"Liberation Mono", monospace' font-size="11.2">L-11</text>
<path d="M59.40 598.40h24.7" stroke="#c49c94" stroke-opacity="0.8" stroke-width="1.5"/>
<text transform="translate(92.50,602.70) scale(1,1.12)" fill="#3a3a3a" stroke="#3a3a3a" stroke-width="0.16" font-family='"Liberation Mono", monospace' font-size="11.2">L-12</text>
<path d="M49.85 378.75V642.90M326.00 378.75V642.90M49.40 379.20H326.45M49.40 642.45H326.45" stroke="#505050" stroke-width="0.9" fill="none"/>
<path d="M62.30 642.40v4.2M49.80 630.30h-4.2M112.52 642.40v4.2M49.80 582.52h-4.2M162.74 642.40v4.2M49.80 534.74h-4.2M212.96 642.40v4.2M49.80 486.96h-4.2M263.18 642.40v4.2M49.80 439.18h-4.2M313.40 642.40v4.2M49.80 391.40h-4.2" stroke="#555" stroke-width="0.9" fill="none"/>
<path d="M49.80 642.25h-1.8M74.85 642.40v2M49.80 618.35h-1.8M87.41 642.40v2M49.80 606.41h-1.8M99.97 642.40v2M49.80 594.46h-1.8M125.07 642.40v2M49.80 570.57h-1.8M137.63 642.40v2M49.80 558.63h-1.8M150.19 642.40v2M49.80 546.68h-1.8M175.30 642.40v2M49.80 522.79h-1.8M187.85 642.40v2M49.80 510.85h-1.8M200.41 642.40v2M49.80 498.90h-1.8M225.51 642.40v2M49.80 475.01h-1.8M238.07 642.40v2M49.80 463.07h-1.8M250.62 642.40v2M49.80 451.12h-1.8M275.74 642.40v2M49.80 427.23h-1.8M288.29 642.40v2M49.80 415.29h-1.8M300.85 642.40v2M49.80 403.34h-1.8M325.96 642.40v2" stroke="#6a6a6a" stroke-width="0.8" fill="none"/>
<text transform="translate(62.30,657.60) scale(1,1.13)" fill="#444" stroke="#444" stroke-width="0.2" font-family='"Liberation Mono", monospace' font-size="10.0" text-anchor="middle">0.0</text>
<text transform="translate(41.50,634.55) scale(1,1.13)" fill="#444" stroke="#444" stroke-width="0.2" font-family='"Liberation Mono", monospace' font-size="10.0" text-anchor="end">0.0</text>
<text transform="translate(112.52,657.60) scale(1,1.13)" fill="#444" stroke="#444" stroke-width="0.2" font-family='"Liberation Mono", monospace' font-size="10.0" text-anchor="middle">0.2</text>
<text transform="translate(41.50,586.77) scale(1,1.13)" fill="#444" stroke="#444" stroke-width="0.2" font-family='"Liberation Mono", monospace' font-size="10.0" text-anchor="end">0.2</text>
<text transform="translate(162.74,657.60) scale(1,1.13)" fill="#444" stroke="#444" stroke-width="0.2" font-family='"Liberation Mono", monospace' font-size="10.0" text-anchor="middle">0.4</text>
<text transform="translate(41.50,538.99) scale(1,1.13)" fill="#444" stroke="#444" stroke-width="0.2" font-family='"Liberation Mono", monospace' font-size="10.0" text-anchor="end">0.4</text>
<text transform="translate(212.96,657.60) scale(1,1.13)" fill="#444" stroke="#444" stroke-width="0.2" font-family='"Liberation Mono", monospace' font-size="10.0" text-anchor="middle">0.6</text>
<text transform="translate(41.50,491.21) scale(1,1.13)" fill="#444" stroke="#444" stroke-width="0.2" font-family='"Liberation Mono", monospace' font-size="10.0" text-anchor="end">0.6</text>
<text transform="translate(263.18,657.60) scale(1,1.13)" fill="#444" stroke="#444" stroke-width="0.2" font-family='"Liberation Mono", monospace' font-size="10.0" text-anchor="middle">0.8</text>
<text transform="translate(41.50,443.43) scale(1,1.13)" fill="#444" stroke="#444" stroke-width="0.2" font-family='"Liberation Mono", monospace' font-size="10.0" text-anchor="end">0.8</text>
<text transform="translate(313.40,657.60) scale(1,1.13)" fill="#444" stroke="#444" stroke-width="0.2" font-family='"Liberation Mono", monospace' font-size="10.0" text-anchor="middle">1.0</text>
<text transform="translate(41.50,395.65) scale(1,1.13)" fill="#444" stroke="#444" stroke-width="0.2" font-family='"Liberation Mono", monospace' font-size="10.0" text-anchor="end">1.0</text>
<text x="187.90" y="367.4" fill="#333" font-size="14.1" font-weight="bold" text-anchor="middle">Precision-Recall Curve (70:30)</text>
<text transform="translate(187.90,678.90)" fill="#444" stroke="#444" stroke-width="0.22" font-family='"Liberation Mono", monospace' font-size="10.4" text-anchor="middle">Recall</text>
<text transform="translate(10.50,512.35) rotate(-90)" fill="#444" stroke="#444" stroke-width="0.22" font-family='"Liberation Mono", monospace' font-size="10.4" text-anchor="middle">Precision</text>
<rect x="407.00" y="379.50" width="276.00" height="262.90" fill="#fff"/>
<path d="M407.00 642.25H683.00M431.95 379.50V642.40M407.00 618.35H683.00M444.51 379.50V642.40M407.00 606.41H683.00M457.06 379.50V642.40M407.00 594.46H683.00M482.17 379.50V642.40M407.00 570.57H683.00M494.73 379.50V642.40M407.00 558.63H683.00M507.28 379.50V642.40M407.00 546.68H683.00M532.39 379.50V642.40M407.00 522.79H683.00M544.95 379.50V642.40M407.00 510.85H683.00M557.50 379.50V642.40M407.00 498.90H683.00M582.62 379.50V642.40M407.00 475.01H683.00M595.17 379.50V642.40M407.00 463.07H683.00M607.72 379.50V642.40M407.00 451.12H683.00M632.84 379.50V642.40M407.00 427.23H683.00M645.39 379.50V642.40M407.00 415.29H683.00M657.94 379.50V642.40M407.00 403.34H683.00" stroke="#ececec" stroke-width="0.8" fill="none"/>
<path d="M419.40 379.50V642.40M407.00 630.30H683.00M469.62 379.50V642.40M407.00 582.52H683.00M519.84 379.50V642.40M407.00 534.74H683.00M570.06 379.50V642.40M407.00 486.96H683.00M620.28 379.50V642.40M407.00 439.18H683.00M670.50 379.50V642.40M407.00 391.40H683.00" stroke="#b4b4b4" stroke-width="0.8" stroke-dasharray="2.1 1.3" fill="none"/>
<path d="M419.8 487.0 L419.8 485.4 L419.8 483.8 L419.8 482.2 L419.8 480.6 L419.8 479.0 L419.8 477.4 L419.8 475.8 L419.8 474.2 L419.8 472.6 L419.8 471.0 L419.8 469.4 L419.8 467.8 L419.8 466.2 L419.8 464.6 L419.8 463.1 L419.8 463.0 L419.8 461.4 L419.8 459.8 L419.8 458.2 L419.8 456.6 L419.8 455.0 L419.8 453.4 L419.8 451.8 L419.8 450.2 L419.8 448.6 L419.8 447.0 L419.8 445.4 L419.8 443.8 L419.8 442.2 L419.8 440.6 L419.8 439.0 L419.8 437.4 L419.8 435.8 L419.8 434.2 L419.8 432.6 L419.8 431.0 L419.9 429.4 L419.9 427.8 L419.9 426.2 L419.9 424.6 L419.9 423.0 L419.9 421.4 L419.9 419.8 L419.9 418.2 L419.9 416.6 L419.9 415.3 L419.9 415.0 L419.9 413.4 L420.0 411.8 L420.0 410.1 L420.1 408.5 L420.2 406.9 L420.3 405.3 L420.5 403.7 L420.6 402.2 L420.7 402.2 L421.2 400.8 L422.1 399.4 L422.2 399.3 L423.1 398.1 L424.2 396.8 L425.4 395.8 L425.7 395.7 L426.8 395.2 L428.3 394.6 L429.9 394.2 L431.5 393.9 L432.0 393.9 L433.1 393.9 L434.6 393.8 L436.2 393.7 L437.8 393.6 L439.3 393.6 L440.9 393.5 L442.5 393.5 L444.1 393.5 L445.7 393.4 L447.3 393.4 L448.9 393.4 L450.5 393.3 L452.2 393.3 L453.8 393.3 L455.4 393.3 L457.1 393.3" stroke="#1f77b4" stroke-opacity="0.8" stroke-width="1.35" fill="none" stroke-linejoin="round"/><path d="M419.8 487.0 L419.8 485.4 L419.8 483.8 L419.8 482.2 L419.8 480.6 L419.8 479.0 L419.8 477.4 L419.8 475.8 L419.8 474.2 L419.8 472.6 L419.8 471.0 L419.8 469.4 L419.8 467.8 L419.8 466.2 L419.8 464.6 L419.8 463.1 L419.8 463.0 L419.8 461.4 L419.8 459.8 L419.8 458.2 L419.8 456.6 L419.8 455.0 L419.8 453.4 L419.8 451.8 L419.8 450.2 L419.8 448.6 L419.9 447.0 L419.9 445.4 L419.9 443.8 L419.9 442.2 L419.9 440.6 L419.9 439.0 L419.9 437.4 L419.9 435.8 L419.9 434.2 L419.9 432.6 L420.0 431.0 L420.0 429.4 L420.0 427.8 L420.0 426.2 L420.0 424.6 L420.0 423.0 L420.1 421.4 L420.1 419.8 L420.1 418.2 L420.1 416.6 L420.2 415.3 L420.2 415.0 L420.2 413.4 L420.3 411.8 L420.4 410.2 L420.6 408.6 L420.8 407.0 L421.0 405.4 L421.3 403.9 L421.4 403.3 L421.7 402.3 L422.2 400.7 L423.0 399.2 L423.9 397.9 L424.4 397.4 L424.9 397.0 L426.3 396.2 L427.9 395.6 L429.4 395.0 L429.4 395.0 L430.9 394.2 L432.0 393.9 L432.4 393.9 L433.9 393.8 L435.4 393.8 L436.9 393.7 L438.4 393.7 L440.0 393.6 L441.5 393.6 L443.0 393.5 L444.6 393.5 L446.1 393.4 L447.6 393.4 L449.2 393.3 L450.7 393.3 L452.3 393.3 L453.9 393.2 L455.4 393.2 L457.0 393.2 L458.6 393.2 L460.2 393.1 L461.7 393.1 L463.3 393.1 L464.9 393.1 L466.5 393.1 L468.1 393.0 L469.7 393.0 L471.4 393.0 L473.0 393.0 L474.6 393.0 L476.3 393.0 L477.9 393.0 L479.5 393.0 L481.2 393.0 L482.9 393.0 L484.5 393.0 L486.2 393.0 L487.9 393.0 L489.6 393.0 L491.3 393.0 L493.0 393.0 L494.7 393.0" stroke="#aec7e8" stroke-opacity="0.8" stroke-width="1.35" fill="none" stroke-linejoin="round"/><path d="M419.4 522.8 L419.4 521.2 L419.4 519.6 L419.4 518.0 L419.4 516.4 L419.4 514.8 L419.4 513.2 L419.4 511.6 L419.4 510.0 L419.4 508.4 L419.4 506.8 L419.4 505.2 L419.4 503.6 L419.4 502.0 L419.4 500.4 L419.4 498.8 L419.4 497.2 L419.5 495.6 L419.5 494.0 L419.5 492.4 L419.5 490.8 L419.5 489.2 L419.5 487.6 L419.5 486.0 L419.5 484.4 L419.5 482.8 L419.5 481.2 L419.5 479.6 L419.5 478.0 L419.5 476.4 L419.6 474.8 L419.6 473.2 L419.6 471.6 L419.6 470.0 L419.6 468.4 L419.6 466.8 L419.6 465.2 L419.6 463.6 L419.6 463.1 L419.7 462.0 L419.7 460.4 L419.7 458.8 L419.8 457.2 L419.8 455.6 L419.9 454.0 L419.9 452.5 L420.0 450.9 L420.0 449.3 L420.1 447.7 L420.2 446.1 L420.2 444.5 L420.3 442.9 L420.3 441.3 L420.4 439.7 L420.4 439.2 L420.4 438.1 L420.5 436.5 L420.5 434.9 L420.6 433.3 L420.6 431.7 L420.6 430.1 L420.7 428.5 L420.7 426.9 L420.8 425.3 L420.8 423.7 L420.8 422.1 L420.9 420.5 L420.9 420.1 L420.9 418.9 L421.0 417.3 L421.0 415.7 L421.1 414.1 L421.2 412.5 L421.2 410.9 L421.3 409.3 L421.4 408.1 L421.4 407.7 L421.6 406.1 L421.8 404.4 L422.0 402.8 L422.3 401.2 L422.7 399.7 L422.9 399.0 L423.2 398.4 L424.2 397.0 L425.5 395.8 L426.8 395.0 L426.9 395.0 L428.3 394.6 L429.9 394.2 L431.5 394.0 L432.0 393.9 L433.1 393.8 L434.7 393.7 L436.3 393.6 L437.9 393.5 L439.5 393.5" stroke="#ff7f0e" stroke-opacity="0.8" stroke-width="1.35" fill="none" stroke-linejoin="round"/><path d="M419.8 487.0 L419.8 485.4 L419.8 483.8 L419.8 482.2 L419.8 480.6 L419.8 479.0 L419.8 477.5 L419.8 475.9 L419.8 474.3 L419.8 472.7 L419.8 471.1 L419.8 469.6 L419.8 468.0 L419.8 466.4 L419.8 464.8 L419.8 463.2 L419.8 463.1 L419.8 461.6 L419.8 460.1 L419.8 458.5 L419.8 456.9 L419.8 455.3 L419.8 453.7 L419.8 452.1 L419.8 450.6 L419.8 449.0 L419.8 447.4 L419.9 445.8 L419.9 444.2 L419.9 442.6 L419.9 441.1 L419.9 439.5 L419.9 437.9 L419.9 436.3 L419.9 434.7 L419.9 433.1 L419.9 431.6 L419.9 430.0 L419.9 428.4 L420.0 426.8 L420.0 425.2 L420.0 423.6 L420.0 422.1 L420.0 420.5 L420.0 418.9 L420.1 417.3 L420.1 415.7 L420.1 414.2 L420.1 412.6 L420.1 411.0 L420.2 410.5 L420.2 409.4 L420.3 407.8 L420.4 406.2 L420.6 404.6 L420.8 403.0 L421.0 401.5 L421.2 401.0 L421.4 400.0 L422.1 398.4 L423.0 397.0 L424.1 395.9 L424.4 395.7 L425.3 395.3 L426.7 394.8 L428.3 394.4 L430.0 394.1 L431.7 393.9 L432.0 393.9 L433.2 393.9 L434.8 393.8 L436.3 393.7 L437.9 393.7 L439.5 393.6 L441.0 393.6 L442.6 393.5 L444.2 393.5 L445.7 393.4 L447.3 393.4 L448.9 393.4 L450.5 393.3 L452.0 393.3 L453.6 393.3 L455.2 393.3 L456.8 393.3 L458.4 393.2 L460.0 393.2 L461.6 393.2 L463.2 393.2 L464.8 393.2 L466.4 393.2 L468.0 393.2 L469.6 393.2" stroke="#ffbb78" stroke-opacity="0.8" stroke-width="1.35" fill="none" stroke-linejoin="round"/><path d="M419.6 487.0 L419.6 485.4 L419.6 483.8 L419.6 482.2 L419.6 480.6 L419.6 479.0 L419.6 477.4 L419.6 475.8 L419.6 474.2 L419.6 472.6 L419.6 471.0 L419.6 469.4 L419.6 467.8 L419.7 466.2 L419.7 464.6 L419.7 463.1 L419.7 463.0 L419.7 461.4 L419.7 459.9 L419.7 458.3 L419.7 456.7 L419.7 455.1 L419.7 453.5 L419.7 451.9 L419.7 450.3 L419.7 448.7 L419.7 447.1 L419.7 445.5 L419.7 443.9 L419.7 442.3 L419.7 440.7 L419.7 439.1 L419.7 437.5 L419.7 435.9 L419.7 434.3 L419.7 432.7 L419.7 431.1 L419.7 429.5 L419.7 427.9 L419.7 426.3 L419.7 424.8 L419.7 423.2 L419.7 421.6 L419.7 420.0 L419.7 418.4 L419.7 416.8 L419.7 415.2 L419.7 413.6 L419.7 412.0 L419.7 410.4 L419.7 408.8 L419.7 407.2 L419.7 405.6 L419.7 404.0 L419.7 403.3 L419.7 402.4 L419.7 400.8 L419.9 399.2 L420.1 397.7 L420.2 397.4 L420.6 396.1 L421.7 394.8 L421.9 394.7 L422.9 394.5 L424.3 394.3 L426.0 394.2 L427.7 394.1 L429.4 394.0 L431.1 393.9 L432.0 393.9 L432.7 393.9 L434.3 393.8 L435.9 393.8 L437.5 393.7 L439.1 393.7 L440.7 393.6 L442.3 393.6 L443.9 393.6 L445.5 393.5 L447.1 393.5 L448.7 393.4 L450.3 393.4 L451.9 393.4 L453.4 393.4 L455.0 393.3 L456.6 393.3 L458.2 393.3 L459.8 393.2 L461.4 393.2 L463.0 393.2 L464.6 393.2 L466.2 393.2 L467.8 393.1 L469.4 393.1 L471.0 393.1 L472.6 393.1 L474.2 393.1 L475.8 393.1 L477.4 393.1 L479.0 393.1 L480.6 393.1 L482.2 393.1" stroke="#2ca02c" stroke-opacity="0.8" stroke-width="1.35" fill="none" stroke-linejoin="round"/><path d="M419.5 463.1 L419.5 461.5 L419.5 459.9 L419.5 458.3 L419.5 456.7 L419.5 455.1 L419.5 453.5 L419.5 451.8 L419.5 450.2 L419.5 448.6 L419.5 447.0 L419.5 445.4 L419.5 443.8 L419.5 442.2 L419.5 440.6 L419.5 439.0 L419.5 437.4 L419.5 435.8 L419.5 434.2 L419.5 432.6 L419.5 431.0 L419.5 429.4 L419.5 427.8 L419.5 426.2 L419.5 424.6 L419.5 423.1 L419.5 421.5 L419.5 419.9 L419.5 418.3 L419.5 416.7 L419.5 415.1 L419.5 413.5 L419.5 411.9 L419.5 410.3 L419.5 408.7 L419.5 407.1 L419.5 405.5 L419.5 403.9 L419.5 402.3 L419.5 401.0 L419.5 400.7 L419.6 399.0 L419.7 397.4 L419.9 396.2 L420.0 395.9 L421.0 394.4 L421.4 394.3 L422.2 394.3 L423.6 394.3 L425.2 394.3 L426.9 394.3 L428.7 394.3 L430.4 394.3 L432.0 394.3 L432.0 394.3 L433.6 394.3 L435.2 394.2 L436.8 394.2 L438.4 394.2 L440.0 394.1 L441.6 394.1 L443.2 394.0 L444.5 394.0 L444.8 394.0 L446.4 394.0 L448.0 394.0 L449.6 394.0 L451.2 393.9 L452.8 393.9 L454.4 393.9 L456.0 393.9 L457.6 393.9 L459.2 393.9 L460.8 393.8 L462.4 393.8 L464.0 393.8 L465.6 393.8 L467.2 393.8 L468.8 393.8 L470.4 393.8 L472.0 393.7 L473.6 393.7 L475.2 393.7 L476.8 393.7 L478.4 393.7 L480.0 393.7 L481.6 393.7 L483.2 393.6 L484.8 393.6 L486.4 393.6 L488.0 393.6 L489.6 393.6 L491.2 393.6 L492.8 393.6 L494.4 393.6 L496.0 393.5 L497.6 393.5 L499.2 393.5 L500.8 393.5 L502.4 393.5 L504.0 393.5 L505.6 393.4 L507.2 393.4 L507.3 393.4 L508.8 393.4 L510.4 393.4 L512.0 393.4 L513.6 393.4 L515.2 393.3 L516.8 393.3 L518.4 393.3 L520.0 393.3 L521.6 393.3 L523.2 393.2 L524.8 393.2 L526.4 393.2 L528.0 393.2 L529.6 393.2 L531.2 393.1 L532.8 393.1 L534.4 393.1 L536.0 393.1 L537.6 393.0 L539.2 393.0 L540.8 393.0 L542.4 393.0 L544.0 393.0 L545.6 392.9 L547.2 392.9 L548.8 392.9 L550.4 392.9 L552.0 392.9 L553.6 392.8 L555.2 392.8 L556.8 392.8 L557.5 392.8 L558.4 392.8 L560.0 392.8 L561.6 392.7 L563.2 392.7 L564.8 392.7 L566.4 392.7 L568.0 392.7 L569.6 392.6 L571.2 392.6 L572.8 392.6 L574.4 392.6 L576.0 392.6 L577.6 392.6 L579.2 392.5 L580.8 392.5 L582.4 392.5 L584.0 392.5 L585.6 392.5 L587.2 392.4 L588.8 392.4 L590.4 392.4 L592.0 392.4 L593.6 392.4 L595.2 392.4" stroke="#98df8a" stroke-opacity="0.8" stroke-width="1.2" fill="none" stroke-linejoin="round"/><path d="M419.8 487.0 L419.8 485.4 L419.8 483.8 L419.8 482.2 L419.8 480.6 L419.8 479.0 L419.8 477.4 L419.8 475.8 L419.8 474.2 L419.8 472.6 L419.8 471.0 L419.8 469.4 L419.8 467.8 L419.8 466.2 L419.8 464.6 L419.8 463.1 L419.8 463.0 L419.8 461.4 L419.8 459.8 L419.8 458.2 L419.8 456.6 L419.8 455.0 L419.8 453.4 L419.8 451.8 L419.8 450.2 L419.8 448.6 L419.9 447.0 L419.9 445.4 L419.9 443.8 L419.9 442.2 L419.9 440.6 L419.9 439.0 L419.9 437.4 L419.9 435.8 L419.9 434.2 L419.9 432.6 L420.0 431.0 L420.0 429.5 L420.0 427.9 L420.0 426.3 L420.0 424.7 L420.0 423.1 L420.1 421.5 L420.1 419.9 L420.1 418.3 L420.1 416.7 L420.2 415.3 L420.2 415.1 L420.2 413.5 L420.3 411.9 L420.4 410.3 L420.5 408.6 L420.7 407.0 L420.9 405.5 L421.1 403.9 L421.2 403.3 L421.4 402.4 L421.9 400.8 L422.6 399.2 L423.4 397.8 L424.2 396.9 L424.3 396.7 L425.6 395.9 L427.1 395.1 L428.2 394.7 L428.6 394.6 L430.2 394.2 L431.8 393.9 L432.0 393.9 L433.4 393.9 L434.9 393.8 L436.5 393.8 L438.1 393.7 L439.6 393.7 L441.2 393.6 L442.8 393.6 L444.4 393.5 L446.0 393.5 L447.5 393.4 L449.1 393.4 L450.7 393.4 L452.3 393.3 L453.9 393.3 L455.4 393.3 L457.0 393.2 L458.6 393.2 L460.2 393.2 L461.8 393.1 L463.4 393.1 L464.9 393.1 L466.5 393.1 L468.1 393.0 L469.7 393.0 L471.3 393.0 L472.9 393.0 L474.5 392.9 L476.1 392.9 L477.7 392.9 L479.3 392.9 L480.9 392.9 L482.5 392.9 L484.1 392.9 L485.7 392.8 L487.3 392.8 L488.9 392.8 L490.5 392.8 L492.1 392.8 L493.7 392.8 L495.3 392.8 L497.0 392.8 L498.6 392.8 L500.2 392.8 L501.8 392.8 L503.4 392.8 L505.1 392.8 L506.7 392.8 L508.3 392.8 L509.9 392.8 L511.6 392.8 L513.2 392.8 L514.8 392.8" stroke="#d62728" stroke-opacity="0.8" stroke-width="1.35" fill="none" stroke-linejoin="round"/><path d="M419.8 487.0 L419.8 485.4 L419.8 483.8 L419.8 482.2 L419.8 480.6 L419.8 479.0 L419.8 477.4 L419.8 475.8 L419.8 474.2 L419.8 472.6 L419.8 471.0 L419.8 469.4 L419.8 467.9 L419.8 466.3 L419.8 464.7 L419.8 463.1 L419.8 463.1 L419.8 461.5 L419.8 459.9 L419.8 458.3 L419.8 456.7 L419.8 455.1 L419.8 453.5 L419.8 451.9 L419.8 450.3 L419.8 448.7 L419.8 447.1 L419.8 445.5 L419.9 444.0 L419.9 442.4 L419.9 440.8 L419.9 439.2 L419.9 437.6 L419.9 436.0 L419.9 434.4 L419.9 432.8 L419.9 431.2 L419.9 429.6 L419.9 428.0 L420.0 426.4 L420.0 424.8 L420.0 423.2 L420.0 421.7 L420.0 420.1 L420.0 418.5 L420.1 416.9 L420.1 415.3 L420.1 413.7 L420.1 412.1 L420.2 410.5 L420.2 410.5 L420.2 408.9 L420.3 407.3 L420.5 405.7 L420.8 404.1 L421.1 402.6 L421.4 401.1 L421.4 401.0 L421.9 399.5 L422.7 398.0 L423.8 396.7 L424.4 396.2 L424.9 395.9 L426.2 395.3 L427.7 394.7 L429.4 394.3 L431.1 394.0 L432.0 393.9 L432.6 393.9 L434.2 393.8 L435.7 393.8 L437.3 393.7 L438.8 393.7 L440.4 393.6 L442.0 393.6 L443.5 393.5 L445.1 393.5 L446.6 393.4 L448.2 393.4 L449.8 393.4 L451.3 393.3 L452.9 393.3 L454.5 393.3 L456.1 393.2 L457.6 393.2 L459.2 393.2 L460.8 393.2 L462.4 393.1 L464.0 393.1 L465.6 393.1 L467.2 393.1 L468.8 393.1 L470.4 393.1 L472.0 393.0 L473.6 393.0 L475.2 393.0 L476.8 393.0 L478.4 393.0 L480.0 393.0 L481.6 393.0 L483.3 393.0 L484.9 393.0 L486.5 393.0 L488.2 393.0 L489.8 393.0 L491.4 393.0 L493.1 393.0 L494.7 393.0" stroke="#ff9896" stroke-opacity="0.8" stroke-width="1.35" fill="none" stroke-linejoin="round"/><path d="M419.4 522.8 L419.4 521.2 L419.4 519.6 L419.4 518.0 L419.4 516.4 L419.4 514.9 L419.4 513.3 L419.4 511.7 L419.4 510.1 L419.4 508.5 L419.4 506.9 L419.4 505.3 L419.4 503.8 L419.4 502.2 L419.4 500.6 L419.4 499.0 L419.4 497.4 L419.5 495.8 L419.5 494.2 L419.5 492.6 L419.5 491.1 L419.5 489.5 L419.5 487.9 L419.5 486.3 L419.5 484.7 L419.5 483.1 L419.5 481.5 L419.5 480.0 L419.5 478.4 L419.5 476.8 L419.6 475.2 L419.6 473.6 L419.6 472.0 L419.6 470.4 L419.6 468.9 L419.6 467.3 L419.6 465.7 L419.6 464.1 L419.6 463.1 L419.6 462.5 L419.7 460.9 L419.7 459.3 L419.7 457.7 L419.8 456.2 L419.8 454.6 L419.8 453.0 L419.9 451.4 L419.9 449.8 L420.0 448.2 L420.0 446.6 L420.0 445.1 L420.1 443.5 L420.1 441.9 L420.1 440.3 L420.2 439.2 L420.2 438.7 L420.2 437.1 L420.2 435.5 L420.2 434.0 L420.2 432.4 L420.2 430.8 L420.2 429.2 L420.2 427.6 L420.3 426.0 L420.3 424.4 L420.3 422.8 L420.3 421.3 L420.3 419.7 L420.3 418.1 L420.3 416.5 L420.4 414.9 L420.4 413.3 L420.4 412.9 L420.4 411.7 L420.5 410.1 L420.6 408.5 L420.8 406.9 L420.9 405.3 L421.1 403.8 L421.4 402.3 L421.4 402.2 L421.8 400.7 L422.5 399.1 L423.4 397.7 L424.4 396.7 L424.4 396.7 L425.6 395.9 L427.0 395.2 L428.6 394.6 L430.2 394.2 L431.8 393.9 L432.0 393.9 L433.4 393.8 L434.9 393.7 L436.5 393.6 L438.1 393.6 L439.6 393.5 L441.3 393.5 L442.9 393.4 L444.5 393.4" stroke="#9467bd" stroke-opacity="0.8" stroke-width="1.35" fill="none" stroke-linejoin="round"/><path d="M419.8 487.0 L419.8 485.4 L419.8 483.8 L419.8 482.2 L419.8 480.6 L419.8 479.0 L419.8 477.4 L419.8 475.8 L419.8 474.2 L419.8 472.6 L419.8 471.0 L419.8 469.4 L419.8 467.9 L419.8 466.3 L419.8 464.7 L419.8 463.1 L419.8 463.1 L419.8 461.5 L419.8 459.9 L419.8 458.3 L419.8 456.7 L419.8 455.1 L419.8 453.5 L419.8 451.9 L419.8 450.3 L419.8 448.7 L419.8 447.1 L419.8 445.5 L419.8 443.9 L419.8 442.3 L419.8 440.8 L419.8 439.2 L419.8 437.6 L419.8 436.0 L419.8 434.4 L419.8 432.8 L419.8 431.2 L419.8 429.6 L419.8 428.0 L419.8 426.4 L419.8 424.8 L419.9 423.2 L419.9 421.6 L419.9 420.0 L419.9 418.5 L419.9 416.9 L419.9 415.3 L419.9 413.7 L419.9 412.1 L419.9 410.5 L419.9 408.9 L419.9 408.1 L419.9 407.3 L420.0 405.7 L420.2 404.1 L420.4 402.5 L420.7 401.0 L420.9 399.8 L421.0 399.4 L421.6 397.8 L422.5 396.3 L423.2 395.7 L423.5 395.5 L424.7 395.1 L426.3 394.6 L428.0 394.3 L429.7 394.1 L431.4 393.9 L432.0 393.9 L433.0 393.9 L434.6 393.8 L436.1 393.7 L437.7 393.7 L439.3 393.6 L440.9 393.6 L442.5 393.5 L444.0 393.5 L445.6 393.5 L447.2 393.4 L448.8 393.4 L450.4 393.4 L452.0 393.3 L453.6 393.3 L455.2 393.3 L456.8 393.3 L458.4 393.2 L460.0 393.2 L461.6 393.2 L463.2 393.2 L464.8 393.2 L466.4 393.2 L468.0 393.2 L469.6 393.2" stroke="#c5b0d5" stroke-opacity="0.8" stroke-width="1.35" fill="none" stroke-linejoin="round"/><path d="M419.8 487.0 L419.8 485.4 L419.8 483.8 L419.8 482.2 L419.8 480.6 L419.8 479.0 L419.8 477.4 L419.8 475.8 L419.8 474.2 L419.8 472.6 L419.8 471.0 L419.8 469.4 L419.8 467.8 L419.8 466.2 L419.8 464.6 L419.8 463.1 L419.8 463.0 L419.8 461.4 L419.8 459.8 L419.8 458.2 L419.8 456.6 L419.8 455.0 L419.8 453.4 L419.8 451.8 L419.8 450.2 L419.8 448.6 L419.8 447.0 L419.8 445.4 L419.8 443.8 L419.8 442.2 L419.8 440.6 L419.8 439.0 L419.8 437.4 L419.8 435.8 L419.8 434.2 L419.8 432.6 L419.8 431.0 L419.8 429.4 L419.8 427.8 L419.8 426.2 L419.8 424.6 L419.8 423.0 L419.9 421.4 L419.9 419.8 L419.9 418.2 L419.9 416.6 L419.9 415.0 L419.9 413.4 L419.9 411.8 L419.9 410.2 L419.9 408.6 L419.9 407.0 L419.9 405.7 L419.9 405.4 L420.0 403.8 L420.1 402.2 L420.3 400.6 L420.6 399.0 L420.7 398.6 L421.0 397.4 L421.8 395.8 L422.7 395.0 L422.8 394.9 L424.0 394.6 L425.5 394.4 L427.2 394.2 L429.0 394.1 L430.7 394.0 L432.0 393.9 L432.4 393.9 L434.0 393.8 L435.6 393.8 L437.2 393.7 L438.8 393.7 L440.3 393.7 L441.9 393.6 L443.5 393.6 L445.1 393.5 L446.7 393.5 L448.3 393.4 L449.9 393.4 L451.5 393.4 L453.1 393.3 L454.7 393.3 L456.3 393.3 L457.9 393.3 L459.5 393.2 L461.1 393.2 L462.7 393.2 L464.3 393.2 L465.9 393.1 L467.5 393.1 L469.1 393.1 L470.7 393.1 L472.3 393.1 L473.9 393.0 L475.5 393.0 L477.1 393.0 L478.7 393.0 L480.3 393.0 L481.9 393.0 L483.5 393.0 L485.1 393.0 L486.7 393.0 L488.3 393.0 L489.9 393.0 L491.5 393.0 L493.1 393.0 L494.7 393.0" stroke="#8c564b" stroke-opacity="0.8" stroke-width="1.35" fill="none" stroke-linejoin="round"/><path d="M419.4 630.3 L419.4 628.7 L419.4 627.1 L419.4 625.5 L419.4 623.9 L419.4 622.3 L419.4 620.7 L419.4 619.1 L419.4 617.5 L419.4 615.9 L419.4 614.3 L419.4 612.7 L419.4 611.1 L419.4 609.6 L419.4 608.0 L419.4 606.4 L419.4 604.8 L419.4 603.2 L419.4 601.6 L419.4 600.0 L419.4 598.4 L419.4 596.8 L419.4 595.2 L419.4 593.6 L419.4 592.0 L419.4 590.4 L419.4 588.8 L419.4 587.2 L419.4 585.6 L419.4 584.0 L419.4 582.4 L419.4 580.8 L419.4 579.2 L419.4 577.6 L419.4 576.0 L419.4 574.4 L419.4 572.8 L419.4 571.3 L419.4 569.7 L419.4 568.1 L419.4 566.5 L419.4 564.9 L419.4 563.3 L419.4 561.7 L419.4 560.1 L419.4 558.5 L419.4 556.9 L419.4 555.3 L419.4 553.7 L419.4 552.1 L419.4 550.5 L419.4 548.9 L419.4 547.3 L419.4 545.7 L419.4 544.1 L419.4 542.5 L419.4 540.9 L419.4 539.3 L419.4 537.7 L419.4 536.1 L419.4 534.7 L419.4 534.5 L419.4 532.9 L419.4 531.4 L419.4 529.8 L419.4 528.2 L419.4 526.6 L419.4 525.0 L419.4 523.4 L419.4 521.8 L419.4 520.2 L419.4 518.6 L419.4 517.0 L419.4 515.4 L419.4 513.8 L419.4 512.2 L419.4 510.6 L419.4 509.0 L419.4 507.4 L419.4 505.8 L419.4 504.2 L419.4 502.6 L419.4 501.0 L419.4 499.4 L419.4 497.8 L419.4 496.2 L419.4 494.6 L419.4 493.1 L419.4 491.5 L419.4 489.9 L419.4 488.3 L419.4 486.7 L419.5 485.1 L419.5 483.5 L419.5 481.9 L419.5 480.3 L419.5 478.7 L419.5 477.1 L419.5 475.5 L419.5 473.9 L419.5 472.3 L419.5 470.7 L419.5 469.1 L419.5 467.5 L419.5 465.9 L419.5 464.3 L419.5 463.1 L419.5 462.7 L419.5 461.1 L419.5 459.5 L419.5 457.9 L419.5 456.3 L419.5 454.8 L419.5 453.2 L419.5 451.6 L419.6 450.0 L419.6 448.4 L419.6 446.8 L419.6 445.2 L419.6 443.6 L419.6 442.0 L419.6 440.4 L419.6 438.8 L419.6 437.2 L419.6 435.6 L419.7 434.0 L419.7 432.4 L419.7 430.8 L419.7 429.2 L419.7 427.6 L419.7 427.2 L419.7 426.0 L419.7 424.4 L419.7 422.8 L419.7 421.2 L419.7 419.6 L419.7 418.0 L419.7 416.4 L419.8 414.9 L419.8 413.3 L419.8 411.7 L419.8 410.1 L419.8 408.5 L419.8 406.9 L419.8 405.3 L419.8 403.7 L419.9 403.3 L419.9 402.1 L419.9 400.5 L420.0 398.9 L420.2 397.4 L420.2 397.3 L420.7 395.7 L421.2 395.0 L421.6 394.6 L423.2 393.9 L423.7 393.8 L424.7 393.7 L426.3 393.7 L427.9 393.7 L429.5 393.6 L431.1 393.6 L432.0 393.6 L432.7 393.6 L434.3 393.5 L435.9 393.5 L437.5 393.4 L439.1 393.3 L440.7 393.3 L442.3 393.2 L443.9 393.2 L444.5 393.2 L445.5 393.2 L447.1 393.2 L448.7 393.1 L450.3 393.1 L451.9 393.1 L453.5 393.1 L455.1 393.1 L456.7 393.0 L458.2 393.0 L459.8 393.0 L461.4 393.0 L463.0 393.0 L464.6 393.0 L466.2 393.0 L467.8 392.9 L469.4 392.9 L471.0 392.9 L472.6 392.9 L474.2 392.9 L475.8 392.9 L477.4 392.9 L479.0 392.9 L480.6 392.9 L482.2 392.8 L483.8 392.8 L485.4 392.8 L487.0 392.8 L488.6 392.8 L490.2 392.8 L491.8 392.8 L493.4 392.8 L495.0 392.8 L496.6 392.8 L498.1 392.8 L499.7 392.7 L501.3 392.7 L502.9 392.7 L504.5 392.7 L506.1 392.7 L507.3 392.7 L507.7 392.7 L509.3 392.7 L510.9 392.7 L512.5 392.7 L514.1 392.6 L515.7 392.6 L517.3 392.6 L518.9 392.6 L520.5 392.6 L522.1 392.6 L523.7 392.6 L525.3 392.6 L526.9 392.5 L528.5 392.5 L530.1 392.5 L531.7 392.5 L533.3 392.5 L534.9 392.5 L536.4 392.5 L538.0 392.5 L539.6 392.5 L541.2 392.4 L542.8 392.4 L544.4 392.4 L546.0 392.4 L547.6 392.4 L549.2 392.4 L550.8 392.4 L552.4 392.4 L554.0 392.4 L555.6 392.3 L557.2 392.3 L558.8 392.3 L560.4 392.3 L562.0 392.3 L563.6 392.3 L565.2 392.3 L566.8 392.3 L568.4 392.2 L570.0 392.2 L570.1 392.2 L571.6 392.2 L573.2 392.2 L574.7 392.2 L576.3 392.2 L577.9 392.2 L579.5 392.2 L581.1 392.2 L582.7 392.1 L584.3 392.1 L585.9 392.1 L587.5 392.1 L589.1 392.1 L590.7 392.1 L592.3 392.1 L593.9 392.0 L595.5 392.0 L597.1 392.0 L598.7 392.0 L600.3 392.0 L601.9 392.0 L603.5 392.0 L605.1 392.0 L606.7 391.9 L608.3 391.9 L609.9 391.9 L611.5 391.9 L613.0 391.9 L614.6 391.9 L616.2 391.9 L617.8 391.9 L619.4 391.8 L621.0 391.8 L622.6 391.8 L624.2 391.8 L625.8 391.8 L627.4 391.8 L629.0 391.8 L630.6 391.7 L632.2 391.7 L633.8 391.7 L635.4 391.7 L637.0 391.7 L638.6 391.7 L640.2 391.7 L641.8 391.7 L643.4 391.6 L645.0 391.6 L646.6 391.6 L648.2 391.6 L649.8 391.6 L651.3 391.6 L652.9 391.6 L654.5 391.5 L656.1 391.5 L657.7 391.5 L659.3 391.5 L660.9 391.5 L662.5 391.5 L664.1 391.5 L665.7 391.4 L667.3 391.4 L668.9 391.4 L670.5 391.4" stroke="#c49c94" stroke-opacity="0.8" stroke-width="1.35" fill="none" stroke-linejoin="round"/>
<rect x="607.70" y="439.60" width="69" height="197.4" rx="2.5" fill="#fff" fill-opacity="0.98" stroke="#e3e3e3" stroke-width="0.8"/>
<path d="M611.80 448.90h24.7" stroke="#1f77b4" stroke-opacity="0.8" stroke-width="1.5"/>
<text transform="translate(644.90,453.20) scale(1,1.12)" fill="#3a3a3a" stroke="#3a3a3a" stroke-width="0.16" font-family='"Liberation Mono", monospace' font-size="11.2">L-1</text>
<path d="M611.80 465.00h24.7" stroke="#aec7e8" stroke-opacity="0.8" stroke-width="1.5"/>
<text transform="translate(644.90,469.30) scale(1,1.12)" fill="#3a3a3a" stroke="#3a3a3a" stroke-width="0.16" font-family='"Liberation Mono", monospace' font-size="11.2">L-2</text>
<path d="M611.80 481.10h24.7" stroke="#ff7f0e" stroke-opacity="0.8" stroke-width="1.5"/>
<text transform="translate(644.90,485.40) scale(1,1.12)" fill="#3a3a3a" stroke="#3a3a3a" stroke-width="0.16" font-family='"Liberation Mono", monospace' font-size="11.2">L-3</text>
<path d="M611.80 497.20h24.7" stroke="#ffbb78" stroke-opacity="0.8" stroke-width="1.5"/>
<text transform="translate(644.90,501.50) scale(1,1.12)" fill="#3a3a3a" stroke="#3a3a3a" stroke-width="0.16" font-family='"Liberation Mono", monospace' font-size="11.2">L-4</text>
<path d="M611.80 513.30h24.7" stroke="#2ca02c" stroke-opacity="0.8" stroke-width="1.5"/>
<text transform="translate(644.90,517.60) scale(1,1.12)" fill="#3a3a3a" stroke="#3a3a3a" stroke-width="0.16" font-family='"Liberation Mono", monospace' font-size="11.2">L-5</text>
<path d="M611.80 529.40h24.7" stroke="#98df8a" stroke-opacity="0.8" stroke-width="1.5"/>
<text transform="translate(644.90,533.70) scale(1,1.12)" fill="#3a3a3a" stroke="#3a3a3a" stroke-width="0.16" font-family='"Liberation Mono", monospace' font-size="11.2">L-6</text>
<path d="M611.80 545.50h24.7" stroke="#d62728" stroke-opacity="0.8" stroke-width="1.5"/>
<text transform="translate(644.90,549.80) scale(1,1.12)" fill="#3a3a3a" stroke="#3a3a3a" stroke-width="0.16" font-family='"Liberation Mono", monospace' font-size="11.2">L-7</text>
<path d="M611.80 561.60h24.7" stroke="#ff9896" stroke-opacity="0.8" stroke-width="1.5"/>
<text transform="translate(644.90,565.90) scale(1,1.12)" fill="#3a3a3a" stroke="#3a3a3a" stroke-width="0.16" font-family='"Liberation Mono", monospace' font-size="11.2">L-8</text>
<path d="M611.80 577.70h24.7" stroke="#9467bd" stroke-opacity="0.8" stroke-width="1.5"/>
<text transform="translate(644.90,582.00) scale(1,1.12)" fill="#3a3a3a" stroke="#3a3a3a" stroke-width="0.16" font-family='"Liberation Mono", monospace' font-size="11.2">L-9</text>
<path d="M611.80 593.80h24.7" stroke="#c5b0d5" stroke-opacity="0.8" stroke-width="1.5"/>
<text transform="translate(644.90,598.10) scale(1,1.12)" fill="#3a3a3a" stroke="#3a3a3a" stroke-width="0.16" font-family='"Liberation Mono", monospace' font-size="11.2">L-10</text>
<path d="M611.80 609.90h24.7" stroke="#8c564b" stroke-opacity="0.8" stroke-width="1.5"/>
<text transform="translate(644.90,614.20) scale(1,1.12)" fill="#3a3a3a" stroke="#3a3a3a" stroke-width="0.16" font-family='"Liberation Mono", monospace' font-size="11.2">L-11</text>
<path d="M611.80 626.00h24.7" stroke="#c49c94" stroke-opacity="0.8" stroke-width="1.5"/>
<text transform="translate(644.90,630.30) scale(1,1.12)" fill="#3a3a3a" stroke="#3a3a3a" stroke-width="0.16" font-family='"Liberation Mono", monospace' font-size="11.2">L-12</text>
<path d="M407.00 378.75V642.90M683.00 378.75V642.90M406.55 379.20H683.45M406.55 642.45H683.45" stroke="#505050" stroke-width="0.9" fill="none"/>
<path d="M419.40 642.40v4.2M407.00 630.30h-4.2M469.62 642.40v4.2M407.00 582.52h-4.2M519.84 642.40v4.2M407.00 534.74h-4.2M570.06 642.40v4.2M407.00 486.96h-4.2M620.28 642.40v4.2M407.00 439.18h-4.2M670.50 642.40v4.2M407.00 391.40h-4.2" stroke="#555" stroke-width="0.9" fill="none"/>
<path d="M407.00 642.25h-1.8M431.95 642.40v2M407.00 618.35h-1.8M444.51 642.40v2M407.00 606.41h-1.8M457.06 642.40v2M407.00 594.46h-1.8M482.17 642.40v2M407.00 570.57h-1.8M494.73 642.40v2M407.00 558.63h-1.8M507.28 642.40v2M407.00 546.68h-1.8M532.39 642.40v2M407.00 522.79h-1.8M544.95 642.40v2M407.00 510.85h-1.8M557.50 642.40v2M407.00 498.90h-1.8M582.62 642.40v2M407.00 475.01h-1.8M595.17 642.40v2M407.00 463.07h-1.8M607.72 642.40v2M407.00 451.12h-1.8M632.84 642.40v2M407.00 427.23h-1.8M645.39 642.40v2M407.00 415.29h-1.8M657.94 642.40v2M407.00 403.34h-1.8" stroke="#6a6a6a" stroke-width="0.8" fill="none"/>
<text transform="translate(419.40,657.60) scale(1,1.13)" fill="#444" stroke="#444" stroke-width="0.2" font-family='"Liberation Mono", monospace' font-size="10.0" text-anchor="middle">0.0</text>
<text transform="translate(398.70,634.55) scale(1,1.13)" fill="#444" stroke="#444" stroke-width="0.2" font-family='"Liberation Mono", monospace' font-size="10.0" text-anchor="end">0.0</text>
<text transform="translate(469.62,657.60) scale(1,1.13)" fill="#444" stroke="#444" stroke-width="0.2" font-family='"Liberation Mono", monospace' font-size="10.0" text-anchor="middle">0.2</text>
<text transform="translate(398.70,586.77) scale(1,1.13)" fill="#444" stroke="#444" stroke-width="0.2" font-family='"Liberation Mono", monospace' font-size="10.0" text-anchor="end">0.2</text>
<text transform="translate(519.84,657.60) scale(1,1.13)" fill="#444" stroke="#444" stroke-width="0.2" font-family='"Liberation Mono", monospace' font-size="10.0" text-anchor="middle">0.4</text>
<text transform="translate(398.70,538.99) scale(1,1.13)" fill="#444" stroke="#444" stroke-width="0.2" font-family='"Liberation Mono", monospace' font-size="10.0" text-anchor="end">0.4</text>
<text transform="translate(570.06,657.60) scale(1,1.13)" fill="#444" stroke="#444" stroke-width="0.2" font-family='"Liberation Mono", monospace' font-size="10.0" text-anchor="middle">0.6</text>
<text transform="translate(398.70,491.21) scale(1,1.13)" fill="#444" stroke="#444" stroke-width="0.2" font-family='"Liberation Mono", monospace' font-size="10.0" text-anchor="end">0.6</text>
<text transform="translate(620.28,657.60) scale(1,1.13)" fill="#444" stroke="#444" stroke-width="0.2" font-family='"Liberation Mono", monospace' font-size="10.0" text-anchor="middle">0.8</text>
<text transform="translate(398.70,443.43) scale(1,1.13)" fill="#444" stroke="#444" stroke-width="0.2" font-family='"Liberation Mono", monospace' font-size="10.0" text-anchor="end">0.8</text>
<text transform="translate(670.50,657.60) scale(1,1.13)" fill="#444" stroke="#444" stroke-width="0.2" font-family='"Liberation Mono", monospace' font-size="10.0" text-anchor="middle">1.0</text>
<text transform="translate(398.70,395.65) scale(1,1.13)" fill="#444" stroke="#444" stroke-width="0.2" font-family='"Liberation Mono", monospace' font-size="10.0" text-anchor="end">1.0</text>
<text x="545.00" y="367.4" fill="#333" font-size="14.1" font-weight="bold" text-anchor="middle">ROC-Curve (70:30)</text>
<text transform="translate(545.00,678.90)" fill="#444" stroke="#444" stroke-width="0.22" font-family='"Liberation Mono", monospace' font-size="10.4" text-anchor="middle">False Positive Rate</text>
<text transform="translate(366.70,511.40) rotate(-90)" fill="#444" stroke="#444" stroke-width="0.22" font-family='"Liberation Mono", monospace' font-size="10.4" text-anchor="middle">True Positive Rate</text>
<path d="M178.25 337.20C174.05 340.40 174.05 345.60 178.25 348.80" stroke="#404040" stroke-width="1.95" fill="none" stroke-linecap="round"/><path d="M196.85 337.20C201.05 340.40 201.05 345.60 196.85 348.80" stroke="#404040" stroke-width="1.95" fill="none" stroke-linecap="round"/><text x="187.75" y="349.50" fill="#404040" stroke="#404040" stroke-width="0.55" font-size="16.2" text-anchor="middle">a</text>
<path d="M535.35 337.20C531.15 340.40 531.15 345.60 535.35 348.80" stroke="#404040" stroke-width="1.95" fill="none" stroke-linecap="round"/><path d="M553.95 337.20C558.15 340.40 558.15 345.60 553.95 348.80" stroke="#404040" stroke-width="1.95" fill="none" stroke-linecap="round"/><text x="544.85" y="349.50" fill="#404040" stroke="#404040" stroke-width="0.55" font-size="16.2" text-anchor="middle">b</text>
<path d="M178.25 692.05C174.05 695.25 174.05 700.45 178.25 703.65" stroke="#404040" stroke-width="1.95" fill="none" stroke-linecap="round"/><path d="M196.85 692.05C201.05 695.25 201.05 700.45 196.85 703.65" stroke="#404040" stroke-width="1.95" fill="none" stroke-linecap="round"/><text x="187.75" y="704.35" fill="#404040" stroke="#404040" stroke-width="0.55" font-size="16.2" text-anchor="middle">c</text>
<path d="M535.35 692.05C531.15 695.25 531.15 700.45 535.35 703.65" stroke="#404040" stroke-width="1.95" fill="none" stroke-linecap="round"/><path d="M553.95 692.05C558.15 695.25 558.15 700.45 553.95 703.65" stroke="#404040" stroke-width="1.95" fill="none" stroke-linecap="round"/><text x="544.85" y="704.35" fill="#404040" stroke="#404040" stroke-width="0.55" font-size="16.2" text-anchor="middle">d</text></svg>
</body></html>
